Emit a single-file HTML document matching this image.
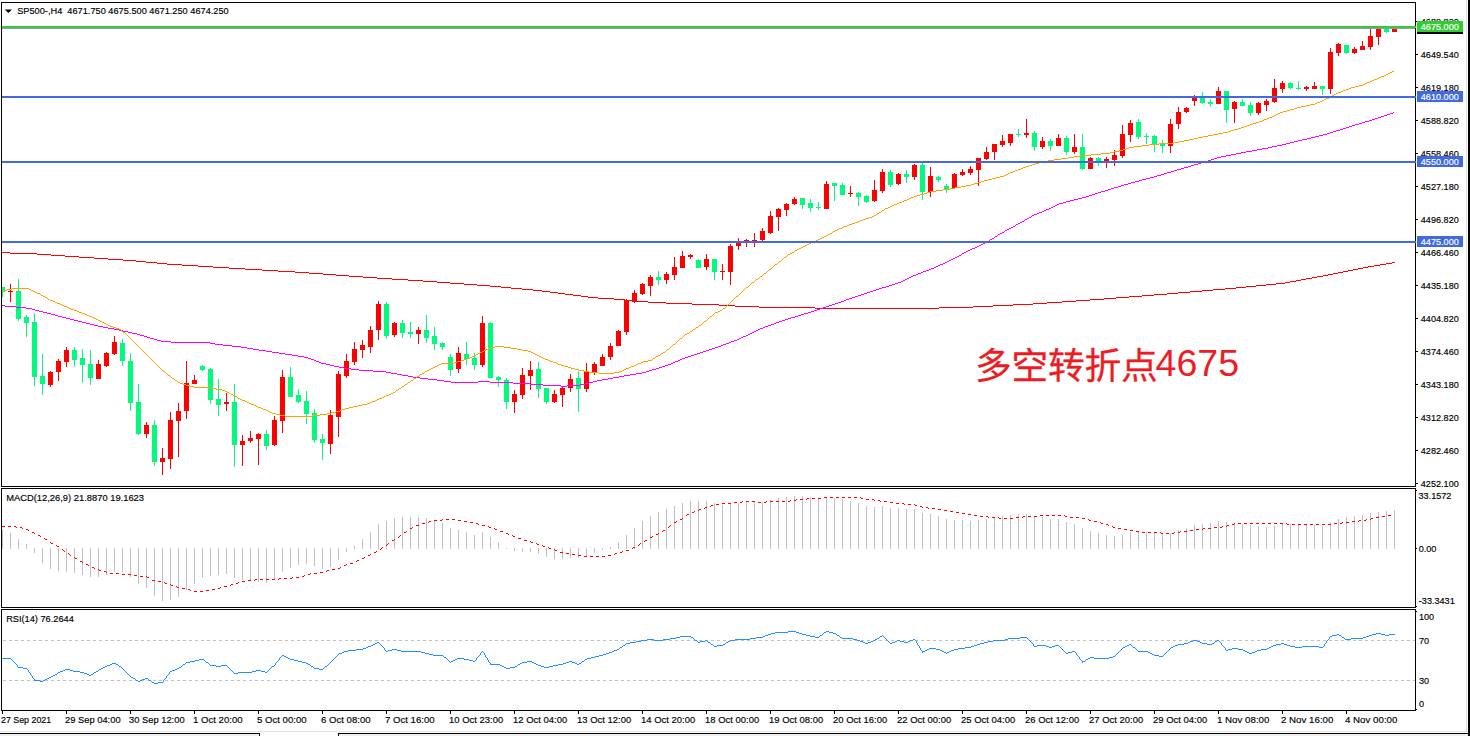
<!DOCTYPE html>
<html><head><meta charset="utf-8"><title>SP500-,H4</title>
<style>html,body{margin:0;padding:0;background:#fff;overflow:hidden}body{width:1470px;height:736px;font-family:"Liberation Sans",sans-serif}svg text{font-family:"Liberation Sans",sans-serif}</style>
</head><body>
<svg width="1470" height="736" viewBox="0 0 1470 736" style="display:block">
<rect width="1470" height="736" fill="#fff"/>
<rect x="0" y="731" width="1467" height="1" fill="#e2e2e2"/>
<rect x="0" y="734" width="260" height="2" fill="#f0f0f0"/>
<rect x="338" y="734" width="1130" height="2" fill="#f0f0f0"/>
<rect x="0" y="733" width="260" height="1" fill="#000"/>
<rect x="338" y="733" width="1130" height="1" fill="#000"/>
<rect x="259" y="733" width="1" height="3" fill="#000"/>
<rect x="338" y="733" width="1" height="3" fill="#000"/>
<rect x="1466" y="0" width="1" height="731" fill="#dcdcdc"/>
<rect x="1468" y="0" width="2" height="736" fill="#000"/>
<defs><clipPath id="cm"><rect x="2" y="3" width="1414" height="483"/></clipPath><clipPath id="c2"><rect x="2" y="489" width="1413" height="118"/></clipPath><clipPath id="c3"><rect x="2" y="610" width="1413" height="100"/></clipPath></defs>
<g clip-path="url(#cm)" shape-rendering="crispEdges">
<rect x="2" y="287.0" width="1" height="10.0" fill="#00fc7c"/>
<rect x="0" y="287.0" width="5" height="4.5" fill="#00fc7c"/>
<rect x="10" y="284.2" width="1" height="17.6" fill="#ff0000"/>
<rect x="8" y="290.9" width="5" height="1.0" fill="#ff0000"/>
<rect x="18" y="279.0" width="1" height="42.0" fill="#00fc7c"/>
<rect x="16" y="290.9" width="5" height="28.1" fill="#00fc7c"/>
<rect x="26" y="314.9" width="1" height="22.1" fill="#00fc7c"/>
<rect x="24" y="317.0" width="5" height="5.7" fill="#00fc7c"/>
<rect x="34" y="313.3" width="1" height="72.6" fill="#00fc7c"/>
<rect x="32" y="321.9" width="5" height="55.1" fill="#00fc7c"/>
<rect x="42" y="354.0" width="1" height="40.8" fill="#00fc7c"/>
<rect x="40" y="376.0" width="5" height="7.6" fill="#00fc7c"/>
<rect x="50" y="370.9" width="1" height="15.9" fill="#ff0000"/>
<rect x="48" y="372.0" width="5" height="12.6" fill="#ff0000"/>
<rect x="58" y="359.0" width="1" height="21.8" fill="#ff0000"/>
<rect x="56" y="361.0" width="5" height="10.5" fill="#ff0000"/>
<rect x="66" y="347.0" width="1" height="19.8" fill="#ff0000"/>
<rect x="64" y="350.0" width="5" height="11.7" fill="#ff0000"/>
<rect x="74" y="347.0" width="1" height="19.8" fill="#00fc7c"/>
<rect x="72" y="350.0" width="5" height="9.8" fill="#00fc7c"/>
<rect x="82" y="349.2" width="1" height="33.7" fill="#00fc7c"/>
<rect x="80" y="358.2" width="5" height="6.5" fill="#00fc7c"/>
<rect x="90" y="350.0" width="1" height="34.8" fill="#00fc7c"/>
<rect x="88" y="363.9" width="5" height="13.9" fill="#00fc7c"/>
<rect x="98" y="360.0" width="1" height="18.6" fill="#ff0000"/>
<rect x="96" y="364.2" width="5" height="14.4" fill="#ff0000"/>
<rect x="106" y="352.0" width="1" height="14.8" fill="#ff0000"/>
<rect x="104" y="353.3" width="5" height="12.5" fill="#ff0000"/>
<rect x="114" y="336.0" width="1" height="19.0" fill="#ff0000"/>
<rect x="112" y="342.2" width="5" height="11.6" fill="#ff0000"/>
<rect x="122" y="339.0" width="1" height="26.8" fill="#00fc7c"/>
<rect x="120" y="343.0" width="5" height="18.4" fill="#00fc7c"/>
<rect x="130" y="353.3" width="1" height="57.5" fill="#00fc7c"/>
<rect x="128" y="361.0" width="5" height="41.7" fill="#00fc7c"/>
<rect x="138" y="384.2" width="1" height="50.6" fill="#00fc7c"/>
<rect x="136" y="402.2" width="5" height="32.0" fill="#00fc7c"/>
<rect x="146" y="422.2" width="1" height="15.6" fill="#ff0000"/>
<rect x="144" y="425.0" width="5" height="8.7" fill="#ff0000"/>
<rect x="154" y="420.1" width="1" height="45.7" fill="#00fc7c"/>
<rect x="152" y="425.0" width="5" height="36.8" fill="#00fc7c"/>
<rect x="162" y="448.0" width="1" height="26.8" fill="#ff0000"/>
<rect x="160" y="458.2" width="5" height="3.6" fill="#ff0000"/>
<rect x="170" y="412.1" width="1" height="56.7" fill="#ff0000"/>
<rect x="168" y="420.1" width="5" height="38.6" fill="#ff0000"/>
<rect x="178" y="403.1" width="1" height="53.8" fill="#ff0000"/>
<rect x="176" y="411.1" width="5" height="9.5" fill="#ff0000"/>
<rect x="186" y="361.0" width="1" height="57.7" fill="#ff0000"/>
<rect x="184" y="383.0" width="5" height="27.5" fill="#ff0000"/>
<rect x="194" y="374.9" width="1" height="9.0" fill="#ff0000"/>
<rect x="192" y="380.1" width="5" height="3.8" fill="#ff0000"/>
<rect x="202" y="365.0" width="1" height="6.0" fill="#00fc7c"/>
<rect x="200" y="366.3" width="5" height="3.7" fill="#00fc7c"/>
<rect x="210" y="368.0" width="1" height="35.8" fill="#00fc7c"/>
<rect x="208" y="369.0" width="5" height="30.9" fill="#00fc7c"/>
<rect x="218" y="379.0" width="1" height="37.0" fill="#00fc7c"/>
<rect x="216" y="399.0" width="5" height="5.8" fill="#00fc7c"/>
<rect x="226" y="393.2" width="1" height="17.6" fill="#ff0000"/>
<rect x="224" y="402.2" width="5" height="1.6" fill="#ff0000"/>
<rect x="234" y="384.2" width="1" height="82.6" fill="#00fc7c"/>
<rect x="232" y="402.2" width="5" height="42.6" fill="#00fc7c"/>
<rect x="242" y="435.0" width="1" height="30.8" fill="#ff0000"/>
<rect x="240" y="441.0" width="5" height="3.8" fill="#ff0000"/>
<rect x="250" y="430.9" width="1" height="12.1" fill="#ff0000"/>
<rect x="248" y="438.1" width="5" height="2.9" fill="#ff0000"/>
<rect x="258" y="433.0" width="1" height="31.7" fill="#ff0000"/>
<rect x="256" y="434.2" width="5" height="4.4" fill="#ff0000"/>
<rect x="266" y="430.1" width="1" height="19.9" fill="#00fc7c"/>
<rect x="264" y="434.0" width="5" height="11.9" fill="#00fc7c"/>
<rect x="274" y="416.0" width="1" height="29.9" fill="#ff0000"/>
<rect x="272" y="420.1" width="5" height="25.0" fill="#ff0000"/>
<rect x="282" y="370.0" width="1" height="62.9" fill="#ff0000"/>
<rect x="280" y="377.0" width="5" height="43.6" fill="#ff0000"/>
<rect x="290" y="367.0" width="1" height="29.8" fill="#00fc7c"/>
<rect x="288" y="377.0" width="5" height="19.8" fill="#00fc7c"/>
<rect x="298" y="389.0" width="1" height="13.7" fill="#00fc7c"/>
<rect x="296" y="395.0" width="5" height="6.8" fill="#00fc7c"/>
<rect x="306" y="391.0" width="1" height="32.9" fill="#00fc7c"/>
<rect x="304" y="401.0" width="5" height="13.1" fill="#00fc7c"/>
<rect x="314" y="409.2" width="1" height="33.8" fill="#00fc7c"/>
<rect x="312" y="412.9" width="5" height="27.0" fill="#00fc7c"/>
<rect x="322" y="434.2" width="1" height="25.6" fill="#00fc7c"/>
<rect x="320" y="439.1" width="5" height="3.9" fill="#00fc7c"/>
<rect x="330" y="410.0" width="1" height="43.8" fill="#ff0000"/>
<rect x="328" y="414.9" width="5" height="29.1" fill="#ff0000"/>
<rect x="338" y="371.1" width="1" height="65.8" fill="#ff0000"/>
<rect x="336" y="374.1" width="5" height="42.8" fill="#ff0000"/>
<rect x="346" y="354.2" width="1" height="23.6" fill="#ff0000"/>
<rect x="344" y="361.0" width="5" height="14.7" fill="#ff0000"/>
<rect x="354" y="341.9" width="1" height="22.9" fill="#ff0000"/>
<rect x="352" y="349.1" width="5" height="12.7" fill="#ff0000"/>
<rect x="362" y="340.1" width="1" height="17.7" fill="#ff0000"/>
<rect x="360" y="345.0" width="5" height="4.9" fill="#ff0000"/>
<rect x="370" y="325.9" width="1" height="27.0" fill="#ff0000"/>
<rect x="368" y="330.0" width="5" height="16.8" fill="#ff0000"/>
<rect x="378" y="301.1" width="1" height="38.7" fill="#ff0000"/>
<rect x="376" y="304.0" width="5" height="25.7" fill="#ff0000"/>
<rect x="386" y="301.9" width="1" height="36.8" fill="#00fc7c"/>
<rect x="384" y="304.0" width="5" height="31.7" fill="#00fc7c"/>
<rect x="394" y="322.2" width="1" height="14.7" fill="#ff0000"/>
<rect x="392" y="323.1" width="5" height="11.5" fill="#ff0000"/>
<rect x="402" y="320.0" width="1" height="17.8" fill="#00fc7c"/>
<rect x="400" y="323.1" width="5" height="9.7" fill="#00fc7c"/>
<rect x="410" y="322.0" width="1" height="15.8" fill="#00fc7c"/>
<rect x="408" y="332.1" width="5" height="1.7" fill="#00fc7c"/>
<rect x="418" y="327.1" width="1" height="16.8" fill="#ff0000"/>
<rect x="416" y="330.0" width="5" height="3.8" fill="#ff0000"/>
<rect x="426" y="315.0" width="1" height="27.7" fill="#00fc7c"/>
<rect x="424" y="330.0" width="5" height="7.7" fill="#00fc7c"/>
<rect x="434" y="327.1" width="1" height="22.8" fill="#00fc7c"/>
<rect x="432" y="336.0" width="5" height="7.9" fill="#00fc7c"/>
<rect x="442" y="341.9" width="1" height="8.0" fill="#00fc7c"/>
<rect x="440" y="343.1" width="5" height="3.7" fill="#00fc7c"/>
<rect x="450" y="354.2" width="1" height="21.5" fill="#00fc7c"/>
<rect x="448" y="356.9" width="5" height="12.8" fill="#00fc7c"/>
<rect x="458" y="347.1" width="1" height="25.7" fill="#ff0000"/>
<rect x="456" y="353.0" width="5" height="15.9" fill="#ff0000"/>
<rect x="466" y="341.9" width="1" height="22.9" fill="#00fc7c"/>
<rect x="464" y="354.0" width="5" height="5.1" fill="#00fc7c"/>
<rect x="474" y="352.9" width="1" height="17.1" fill="#00fc7c"/>
<rect x="472" y="358.1" width="5" height="6.7" fill="#00fc7c"/>
<rect x="482" y="316.0" width="1" height="50.9" fill="#ff0000"/>
<rect x="480" y="322.9" width="5" height="42.1" fill="#ff0000"/>
<rect x="490" y="322.0" width="1" height="56.0" fill="#00fc7c"/>
<rect x="488" y="322.9" width="5" height="55.1" fill="#00fc7c"/>
<rect x="498" y="375.9" width="1" height="11.0" fill="#00fc7c"/>
<rect x="496" y="377.0" width="5" height="3.0" fill="#00fc7c"/>
<rect x="506" y="378.0" width="1" height="30.9" fill="#00fc7c"/>
<rect x="504" y="380.0" width="5" height="22.0" fill="#00fc7c"/>
<rect x="514" y="389.8" width="1" height="23.2" fill="#ff0000"/>
<rect x="512" y="394.2" width="5" height="7.8" fill="#ff0000"/>
<rect x="522" y="368.1" width="1" height="30.7" fill="#ff0000"/>
<rect x="520" y="375.1" width="5" height="19.6" fill="#ff0000"/>
<rect x="530" y="360.9" width="1" height="28.9" fill="#ff0000"/>
<rect x="528" y="370.2" width="5" height="5.7" fill="#ff0000"/>
<rect x="538" y="362.0" width="1" height="36.0" fill="#00fc7c"/>
<rect x="536" y="369.1" width="5" height="19.9" fill="#00fc7c"/>
<rect x="546" y="388.2" width="1" height="15.8" fill="#00fc7c"/>
<rect x="544" y="388.2" width="5" height="13.8" fill="#00fc7c"/>
<rect x="554" y="389.8" width="1" height="13.1" fill="#ff0000"/>
<rect x="552" y="394.2" width="5" height="7.8" fill="#ff0000"/>
<rect x="562" y="387.0" width="1" height="19.9" fill="#ff0000"/>
<rect x="560" y="388.2" width="5" height="6.5" fill="#ff0000"/>
<rect x="570" y="374.0" width="1" height="17.8" fill="#ff0000"/>
<rect x="568" y="379.2" width="5" height="8.6" fill="#ff0000"/>
<rect x="578" y="371.0" width="1" height="40.8" fill="#00fc7c"/>
<rect x="576" y="378.0" width="5" height="11.0" fill="#00fc7c"/>
<rect x="586" y="362.9" width="1" height="29.0" fill="#ff0000"/>
<rect x="584" y="371.8" width="5" height="17.2" fill="#ff0000"/>
<rect x="594" y="362.0" width="1" height="13.1" fill="#ff0000"/>
<rect x="592" y="364.2" width="5" height="8.9" fill="#ff0000"/>
<rect x="602" y="353.9" width="1" height="11.9" fill="#ff0000"/>
<rect x="600" y="357.1" width="5" height="8.7" fill="#ff0000"/>
<rect x="610" y="342.9" width="1" height="17.0" fill="#ff0000"/>
<rect x="608" y="346.0" width="5" height="10.8" fill="#ff0000"/>
<rect x="618" y="329.9" width="1" height="15.8" fill="#ff0000"/>
<rect x="616" y="331.0" width="5" height="14.7" fill="#ff0000"/>
<rect x="626" y="299.4" width="1" height="35.4" fill="#ff0000"/>
<rect x="624" y="300.2" width="5" height="31.6" fill="#ff0000"/>
<rect x="634" y="289.9" width="1" height="12.8" fill="#ff0000"/>
<rect x="632" y="292.9" width="5" height="8.9" fill="#ff0000"/>
<rect x="642" y="283.1" width="1" height="11.7" fill="#ff0000"/>
<rect x="640" y="283.9" width="5" height="10.1" fill="#ff0000"/>
<rect x="650" y="274.9" width="1" height="20.9" fill="#ff0000"/>
<rect x="648" y="277.0" width="5" height="8.8" fill="#ff0000"/>
<rect x="658" y="271.1" width="1" height="13.6" fill="#00fc7c"/>
<rect x="656" y="277.3" width="5" height="2.5" fill="#00fc7c"/>
<rect x="666" y="272.1" width="1" height="11.8" fill="#ff0000"/>
<rect x="664" y="274.1" width="5" height="5.7" fill="#ff0000"/>
<rect x="674" y="256.9" width="1" height="22.9" fill="#ff0000"/>
<rect x="672" y="267.1" width="5" height="7.8" fill="#ff0000"/>
<rect x="682" y="251.1" width="1" height="16.8" fill="#ff0000"/>
<rect x="680" y="256.1" width="5" height="11.8" fill="#ff0000"/>
<rect x="690" y="254.2" width="1" height="4.7" fill="#ff0000"/>
<rect x="688" y="255.0" width="5" height="1.9" fill="#ff0000"/>
<rect x="698" y="259.1" width="1" height="8.8" fill="#00fc7c"/>
<rect x="696" y="260.2" width="5" height="7.7" fill="#00fc7c"/>
<rect x="706" y="254.2" width="1" height="15.8" fill="#ff0000"/>
<rect x="704" y="259.1" width="5" height="7.6" fill="#ff0000"/>
<rect x="714" y="259.1" width="1" height="20.7" fill="#00fc7c"/>
<rect x="712" y="259.1" width="5" height="12.5" fill="#00fc7c"/>
<rect x="722" y="264.0" width="1" height="15.8" fill="#ff0000"/>
<rect x="720" y="270.8" width="5" height="1.2" fill="#ff0000"/>
<rect x="730" y="243.9" width="1" height="40.8" fill="#ff0000"/>
<rect x="728" y="246.0" width="5" height="25.6" fill="#ff0000"/>
<rect x="738" y="237.8" width="1" height="12.1" fill="#ff0000"/>
<rect x="736" y="240.6" width="5" height="5.4" fill="#ff0000"/>
<rect x="746" y="239.0" width="1" height="7.8" fill="#ff0000"/>
<rect x="744" y="240.1" width="5" height="1.8" fill="#ff0000"/>
<rect x="754" y="232.9" width="1" height="13.9" fill="#ff0000"/>
<rect x="752" y="240.1" width="5" height="1.3" fill="#ff0000"/>
<rect x="762" y="228.0" width="1" height="12.9" fill="#ff0000"/>
<rect x="760" y="230.8" width="5" height="9.0" fill="#ff0000"/>
<rect x="770" y="210.9" width="1" height="22.9" fill="#ff0000"/>
<rect x="768" y="216.1" width="5" height="16.8" fill="#ff0000"/>
<rect x="778" y="208.0" width="1" height="22.8" fill="#ff0000"/>
<rect x="776" y="209.1" width="5" height="7.5" fill="#ff0000"/>
<rect x="786" y="203.1" width="1" height="12.7" fill="#ff0000"/>
<rect x="784" y="204.0" width="5" height="5.6" fill="#ff0000"/>
<rect x="794" y="197.0" width="1" height="8.0" fill="#ff0000"/>
<rect x="792" y="199.0" width="5" height="5.0" fill="#ff0000"/>
<rect x="802" y="197.8" width="1" height="11.0" fill="#00fc7c"/>
<rect x="800" y="198.2" width="5" height="6.5" fill="#00fc7c"/>
<rect x="810" y="199.0" width="1" height="12.7" fill="#00fc7c"/>
<rect x="808" y="203.1" width="5" height="4.5" fill="#00fc7c"/>
<rect x="818" y="201.9" width="1" height="8.0" fill="#00fc7c"/>
<rect x="816" y="207.0" width="5" height="1.3" fill="#00fc7c"/>
<rect x="826" y="180.9" width="1" height="28.1" fill="#ff0000"/>
<rect x="824" y="184.0" width="5" height="25.0" fill="#ff0000"/>
<rect x="834" y="182.9" width="1" height="17.9" fill="#00fc7c"/>
<rect x="832" y="183.2" width="5" height="2.6" fill="#00fc7c"/>
<rect x="842" y="182.9" width="1" height="11.9" fill="#00fc7c"/>
<rect x="840" y="185.0" width="5" height="9.8" fill="#00fc7c"/>
<rect x="850" y="186.1" width="1" height="10.6" fill="#ff0000"/>
<rect x="848" y="193.0" width="5" height="1.0" fill="#ff0000"/>
<rect x="858" y="191.8" width="1" height="13.9" fill="#00fc7c"/>
<rect x="856" y="193.0" width="5" height="3.7" fill="#00fc7c"/>
<rect x="866" y="195.1" width="1" height="7.7" fill="#00fc7c"/>
<rect x="864" y="195.9" width="5" height="5.7" fill="#00fc7c"/>
<rect x="874" y="180.1" width="1" height="21.5" fill="#ff0000"/>
<rect x="872" y="190.2" width="5" height="10.6" fill="#ff0000"/>
<rect x="882" y="169.0" width="1" height="24.0" fill="#ff0000"/>
<rect x="880" y="171.9" width="5" height="19.1" fill="#ff0000"/>
<rect x="890" y="170.1" width="1" height="16.8" fill="#00fc7c"/>
<rect x="888" y="171.9" width="5" height="13.1" fill="#00fc7c"/>
<rect x="898" y="173.1" width="1" height="11.9" fill="#ff0000"/>
<rect x="896" y="173.9" width="5" height="10.1" fill="#ff0000"/>
<rect x="906" y="170.1" width="1" height="12.8" fill="#00fc7c"/>
<rect x="904" y="174.4" width="5" height="2.3" fill="#00fc7c"/>
<rect x="914" y="163.8" width="1" height="16.1" fill="#ff0000"/>
<rect x="912" y="164.9" width="5" height="11.9" fill="#ff0000"/>
<rect x="922" y="162.9" width="1" height="37.1" fill="#00fc7c"/>
<rect x="920" y="164.9" width="5" height="26.9" fill="#00fc7c"/>
<rect x="930" y="167.0" width="1" height="29.7" fill="#ff0000"/>
<rect x="928" y="176.0" width="5" height="15.8" fill="#ff0000"/>
<rect x="938" y="176.0" width="1" height="5.7" fill="#00fc7c"/>
<rect x="936" y="176.8" width="5" height="3.1" fill="#00fc7c"/>
<rect x="946" y="184.2" width="1" height="8.8" fill="#00fc7c"/>
<rect x="944" y="185.8" width="5" height="3.3" fill="#00fc7c"/>
<rect x="954" y="173.1" width="1" height="16.0" fill="#ff0000"/>
<rect x="952" y="173.9" width="5" height="14.2" fill="#ff0000"/>
<rect x="962" y="169.0" width="1" height="7.0" fill="#ff0000"/>
<rect x="960" y="171.9" width="5" height="3.1" fill="#ff0000"/>
<rect x="970" y="166.0" width="1" height="9.0" fill="#ff0000"/>
<rect x="968" y="169.0" width="5" height="4.1" fill="#ff0000"/>
<rect x="978" y="158.0" width="1" height="28.1" fill="#ff0000"/>
<rect x="976" y="158.0" width="5" height="11.8" fill="#ff0000"/>
<rect x="986" y="146.9" width="1" height="13.1" fill="#ff0000"/>
<rect x="984" y="152.2" width="5" height="6.7" fill="#ff0000"/>
<rect x="994" y="144.0" width="1" height="16.0" fill="#ff0000"/>
<rect x="992" y="144.0" width="5" height="7.8" fill="#ff0000"/>
<rect x="1002" y="135.0" width="1" height="11.9" fill="#ff0000"/>
<rect x="1000" y="140.9" width="5" height="4.1" fill="#ff0000"/>
<rect x="1010" y="134.0" width="1" height="11.8" fill="#ff0000"/>
<rect x="1008" y="134.0" width="5" height="8.9" fill="#ff0000"/>
<rect x="1018" y="129.0" width="1" height="8.0" fill="#00fc7c"/>
<rect x="1016" y="134.0" width="5" height="1.0" fill="#00fc7c"/>
<rect x="1026" y="119.3" width="1" height="18.7" fill="#ff0000"/>
<rect x="1024" y="133.1" width="5" height="1.9" fill="#ff0000"/>
<rect x="1034" y="131.1" width="1" height="19.9" fill="#00fc7c"/>
<rect x="1032" y="133.1" width="5" height="13.8" fill="#00fc7c"/>
<rect x="1042" y="137.0" width="1" height="12.0" fill="#ff0000"/>
<rect x="1040" y="141.0" width="5" height="5.8" fill="#ff0000"/>
<rect x="1050" y="139.0" width="1" height="11.9" fill="#00fc7c"/>
<rect x="1048" y="141.0" width="5" height="4.9" fill="#00fc7c"/>
<rect x="1058" y="134.0" width="1" height="11.9" fill="#ff0000"/>
<rect x="1056" y="138.1" width="5" height="7.8" fill="#ff0000"/>
<rect x="1066" y="136.1" width="1" height="18.8" fill="#00fc7c"/>
<rect x="1064" y="138.1" width="5" height="13.9" fill="#00fc7c"/>
<rect x="1074" y="134.0" width="1" height="19.8" fill="#ff0000"/>
<rect x="1072" y="147.1" width="5" height="4.9" fill="#ff0000"/>
<rect x="1082" y="134.0" width="1" height="35.6" fill="#00fc7c"/>
<rect x="1080" y="147.1" width="5" height="21.7" fill="#00fc7c"/>
<rect x="1090" y="157.3" width="1" height="11.5" fill="#ff0000"/>
<rect x="1088" y="158.2" width="5" height="10.6" fill="#ff0000"/>
<rect x="1098" y="157.3" width="1" height="8.5" fill="#00fc7c"/>
<rect x="1096" y="158.2" width="5" height="2.9" fill="#00fc7c"/>
<rect x="1106" y="157.0" width="1" height="11.0" fill="#ff0000"/>
<rect x="1104" y="159.0" width="5" height="2.1" fill="#ff0000"/>
<rect x="1114" y="150.0" width="1" height="15.8" fill="#ff0000"/>
<rect x="1112" y="154.9" width="5" height="5.4" fill="#ff0000"/>
<rect x="1122" y="125.0" width="1" height="32.8" fill="#ff0000"/>
<rect x="1120" y="134.0" width="5" height="21.7" fill="#ff0000"/>
<rect x="1130" y="120.1" width="1" height="21.7" fill="#ff0000"/>
<rect x="1128" y="123.1" width="5" height="11.9" fill="#ff0000"/>
<rect x="1138" y="119.0" width="1" height="19.9" fill="#00fc7c"/>
<rect x="1136" y="121.9" width="5" height="15.0" fill="#00fc7c"/>
<rect x="1146" y="132.9" width="1" height="11.1" fill="#00fc7c"/>
<rect x="1144" y="135.8" width="5" height="1.1" fill="#00fc7c"/>
<rect x="1154" y="135.0" width="1" height="17.0" fill="#00fc7c"/>
<rect x="1152" y="135.8" width="5" height="9.0" fill="#00fc7c"/>
<rect x="1162" y="139.9" width="1" height="13.0" fill="#00fc7c"/>
<rect x="1160" y="143.0" width="5" height="2.9" fill="#00fc7c"/>
<rect x="1170" y="119.0" width="1" height="33.9" fill="#ff0000"/>
<rect x="1168" y="123.9" width="5" height="22.0" fill="#ff0000"/>
<rect x="1178" y="107.1" width="1" height="21.7" fill="#ff0000"/>
<rect x="1176" y="112.1" width="5" height="11.8" fill="#ff0000"/>
<rect x="1186" y="107.1" width="1" height="5.8" fill="#ff0000"/>
<rect x="1184" y="108.0" width="5" height="4.1" fill="#ff0000"/>
<rect x="1194" y="95.0" width="1" height="10.9" fill="#ff0000"/>
<rect x="1192" y="98.1" width="5" height="2.6" fill="#ff0000"/>
<rect x="1202" y="92.0" width="1" height="12.0" fill="#00fc7c"/>
<rect x="1200" y="98.1" width="5" height="4.9" fill="#00fc7c"/>
<rect x="1210" y="99.1" width="1" height="8.0" fill="#00fc7c"/>
<rect x="1208" y="102.2" width="5" height="1.8" fill="#00fc7c"/>
<rect x="1218" y="87.0" width="1" height="17.0" fill="#ff0000"/>
<rect x="1216" y="90.9" width="5" height="13.1" fill="#ff0000"/>
<rect x="1226" y="90.9" width="1" height="32.2" fill="#00fc7c"/>
<rect x="1224" y="90.9" width="5" height="19.1" fill="#00fc7c"/>
<rect x="1234" y="101.0" width="1" height="22.1" fill="#ff0000"/>
<rect x="1232" y="102.2" width="5" height="6.7" fill="#ff0000"/>
<rect x="1242" y="99.1" width="1" height="6.8" fill="#00fc7c"/>
<rect x="1240" y="102.2" width="5" height="3.7" fill="#00fc7c"/>
<rect x="1250" y="102.2" width="1" height="13.8" fill="#00fc7c"/>
<rect x="1248" y="105.1" width="5" height="7.8" fill="#00fc7c"/>
<rect x="1258" y="102.2" width="1" height="12.7" fill="#ff0000"/>
<rect x="1256" y="103.1" width="5" height="9.8" fill="#ff0000"/>
<rect x="1266" y="99.0" width="1" height="11.8" fill="#ff0000"/>
<rect x="1264" y="101.2" width="5" height="3.8" fill="#ff0000"/>
<rect x="1274" y="79.0" width="1" height="24.0" fill="#ff0000"/>
<rect x="1272" y="88.0" width="5" height="14.0" fill="#ff0000"/>
<rect x="1282" y="81.0" width="1" height="11.9" fill="#ff0000"/>
<rect x="1280" y="82.9" width="5" height="5.9" fill="#ff0000"/>
<rect x="1290" y="81.8" width="1" height="7.3" fill="#00fc7c"/>
<rect x="1288" y="82.9" width="5" height="5.1" fill="#00fc7c"/>
<rect x="1298" y="81.0" width="1" height="8.9" fill="#00fc7c"/>
<rect x="1296" y="88.0" width="5" height="1.1" fill="#00fc7c"/>
<rect x="1306" y="85.8" width="1" height="5.3" fill="#ff0000"/>
<rect x="1304" y="87.0" width="5" height="2.1" fill="#ff0000"/>
<rect x="1314" y="81.8" width="1" height="7.3" fill="#ff0000"/>
<rect x="1312" y="85.8" width="5" height="3.3" fill="#ff0000"/>
<rect x="1322" y="85.8" width="1" height="9.0" fill="#00fc7c"/>
<rect x="1320" y="85.8" width="5" height="3.3" fill="#00fc7c"/>
<rect x="1330" y="48.0" width="1" height="46.0" fill="#ff0000"/>
<rect x="1328" y="52.1" width="5" height="37.0" fill="#ff0000"/>
<rect x="1338" y="42.9" width="1" height="13.1" fill="#ff0000"/>
<rect x="1336" y="43.9" width="5" height="9.0" fill="#ff0000"/>
<rect x="1346" y="45.1" width="1" height="8.9" fill="#00fc7c"/>
<rect x="1344" y="45.1" width="5" height="7.8" fill="#00fc7c"/>
<rect x="1354" y="47.0" width="1" height="7.0" fill="#ff0000"/>
<rect x="1352" y="48.8" width="5" height="4.1" fill="#ff0000"/>
<rect x="1362" y="41.0" width="1" height="9.0" fill="#ff0000"/>
<rect x="1360" y="45.9" width="5" height="4.1" fill="#ff0000"/>
<rect x="1370" y="27.9" width="1" height="22.1" fill="#ff0000"/>
<rect x="1368" y="36.1" width="5" height="10.9" fill="#ff0000"/>
<rect x="1378" y="27.9" width="1" height="17.2" fill="#ff0000"/>
<rect x="1376" y="28.8" width="5" height="8.1" fill="#ff0000"/>
<rect x="1386" y="27.9" width="1" height="4.9" fill="#00fc7c"/>
<rect x="1384" y="28.4" width="5" height="3.6" fill="#00fc7c"/>
<rect x="1394" y="28.4" width="1" height="3.6" fill="#ff0000"/>
<rect x="1392" y="28.4" width="5" height="3.6" fill="#ff0000"/>
<path d="M2 252h8v1h-8zM10 253h27v1h-27zM37 254h14v1h-14zM51 255h14v1h-14zM65 256h14v1h-14zM79 257h15v1h-15zM94 258h14v1h-14zM108 259h15v1h-15zM123 260h13v1h-13zM136 261h10v1h-10zM146 262h11v1h-11zM157 263h10v1h-10zM167 264h15v1h-15zM182 265h16v1h-16zM198 266h15v1h-15zM213 267h16v1h-16zM229 268h16v1h-16zM245 269h17v1h-17zM262 270h16v1h-16zM278 271h17v1h-17zM295 272h14v1h-14zM309 273h14v1h-14zM323 274h13v1h-13zM336 275h13v1h-13zM349 276h14v1h-14zM363 277h14v1h-14zM377 278h15v1h-15zM392 279h16v1h-16zM408 280h15v1h-15zM423 281h14v1h-14zM437 282h13v1h-13zM450 283h14v1h-14zM464 284h13v1h-13zM477 285h13v1h-13zM490 286h11v1h-11zM501 287h10v1h-10zM511 288h11v1h-11zM522 289h11v1h-11zM533 290h9v1h-9zM542 291h8v1h-8zM550 292h8v1h-8zM558 293h7v1h-7zM565 294h8v1h-8zM573 295h8v1h-8zM581 296h7v1h-7zM588 297h10v1h-10zM598 298h16v1h-16zM614 299h11v1h-11zM625 300h9v1h-9zM634 301h14v1h-14zM648 302h18v1h-18zM666 303h26v1h-26zM692 304h27v1h-27zM719 305h16v1h-16zM735 306h24v1h-24zM759 307h56v1h-56zM815 308h124v1h-124zM939 307h34v1h-34zM973 306h20v1h-20zM993 305h20v1h-20zM1013 304h20v1h-20zM1033 303h14v1h-14zM1047 302h15v1h-15zM1062 301h14v1h-14zM1076 300h14v1h-14zM1090 299h14v1h-14zM1104 298h12v1h-12zM1116 297h13v1h-13zM1129 296h13v1h-13zM1142 295h12v1h-12zM1154 294h13v1h-13zM1167 293h11v1h-11zM1178 292h12v1h-12zM1190 291h12v1h-12zM1202 290h11v1h-11zM1213 289h12v1h-12zM1225 288h11v1h-11zM1236 287h10v1h-10zM1246 286h10v1h-10zM1256 285h10v1h-10zM1266 284h10v1h-10zM1276 283h9v1h-9zM1285 282h5v1h-5zM1290 281h6v1h-6zM1296 280h5v1h-5zM1301 279h5v1h-5zM1306 278h6v1h-6zM1312 277h5v1h-5zM1317 276h6v1h-6zM1323 275h5v1h-5zM1328 274h5v1h-5zM1333 273h5v1h-5zM1338 272h5v1h-5zM1343 271h5v1h-5zM1348 270h5v1h-5zM1353 269h5v1h-5zM1358 268h5v1h-5zM1363 267h5v1h-5zM1368 266h6v1h-6zM1374 265h6v1h-6zM1380 264h6v1h-6zM1386 263h6v1h-6zM1392 262h3v1h-3z" fill="#ff0000" shape-rendering="crispEdges"/>
<path d="M2 305h3v1h-3zM5 306h11v1h-11zM16 307h10v1h-10zM26 308h6v1h-6zM32 309h3v1h-3zM35 310h4v1h-4zM39 311h4v1h-4zM43 312h4v1h-4zM47 313h4v1h-4zM51 314h4v1h-4zM55 315h3v1h-3zM58 316h4v1h-4zM62 317h4v1h-4zM66 318h4v1h-4zM70 319h4v1h-4zM74 320h4v1h-4zM78 321h4v1h-4zM82 322h4v1h-4zM86 323h4v1h-4zM90 324h4v1h-4zM94 325h4v1h-4zM98 326h5v1h-5zM103 327h5v1h-5zM108 328h6v1h-6zM114 329h5v1h-5zM119 330h4v1h-4zM123 331h5v1h-5zM128 332h4v1h-4zM132 333h5v1h-5zM137 334h3v1h-3zM140 335h4v1h-4zM144 336h3v1h-3zM147 337h3v1h-3zM150 338h4v1h-4zM154 339h3v1h-3zM157 340h4v1h-4zM161 341h10v1h-10zM171 342h39v1h-39zM210 343h5v1h-5zM215 344h8v1h-8zM223 345h9v1h-9zM232 346h9v1h-9zM241 347h6v1h-6zM247 348h6v1h-6zM253 349h6v1h-6zM259 350h7v1h-7zM266 351h6v1h-6zM272 352h7v1h-7zM279 353h6v1h-6zM285 354h7v1h-7zM292 355h6v1h-6zM298 356h6v1h-6zM304 357h4v1h-4zM308 358h3v1h-3zM311 359h3v1h-3zM314 360h2v1h-2zM316 361h3v1h-3zM319 362h2v1h-2zM321 363h5v1h-5zM326 364h4v1h-4zM330 365h4v1h-4zM334 366h5v1h-5zM339 367h5v1h-5zM344 368h7v1h-7zM351 369h8v1h-8zM359 370h14v1h-14zM373 371h13v1h-13zM386 372h5v1h-5zM391 373h6v1h-6zM397 374h5v1h-5zM402 375h6v1h-6zM408 376h5v1h-5zM413 377h7v1h-7zM420 378h8v1h-8zM428 379h9v1h-9zM437 380h7v1h-7zM444 381h7v1h-7zM451 382h27v1h-27zM478 381h12v1h-12zM490 382h23v1h-23zM513 383h17v1h-17zM530 384h13v1h-13zM543 385h18v1h-18zM561 386h6v1h-6zM567 385h13v1h-13zM580 384h5v1h-5zM585 383h4v1h-4zM589 382h4v1h-4zM593 381h4v1h-4zM597 380h5v1h-5zM602 379h6v1h-6zM608 378h5v1h-5zM613 377h6v1h-6zM619 376h5v1h-5zM624 375h6v1h-6zM630 374h6v1h-6zM636 373h6v1h-6zM642 372h4v1h-4zM646 371h3v1h-3zM649 370h3v1h-3zM652 369h4v1h-4zM656 368h3v1h-3zM659 367h3v1h-3zM662 366h3v1h-3zM665 365h3v1h-3zM668 364h3v1h-3zM671 363h2v1h-2zM673 362h2v1h-2zM675 361h3v1h-3zM678 360h2v1h-2zM680 359h2v1h-2zM682 358h3v1h-3zM685 357h3v1h-3zM688 356h3v1h-3zM691 355h3v1h-3zM694 354h3v1h-3zM697 353h3v1h-3zM700 352h3v1h-3zM703 351h3v1h-3zM706 350h3v1h-3zM709 349h3v1h-3zM712 348h3v1h-3zM715 347h3v1h-3zM718 346h3v1h-3zM721 345h2v1h-2zM723 344h3v1h-3zM726 343h3v1h-3zM729 342h2v1h-2zM731 341h3v1h-3zM734 340h3v1h-3zM737 339h2v1h-2zM739 338h2v1h-2zM741 337h2v1h-2zM743 336h3v1h-3zM746 335h2v1h-2zM748 334h2v1h-2zM750 333h2v1h-2zM752 332h2v1h-2zM754 331h2v1h-2zM756 330h2v1h-2zM758 329h2v1h-2zM760 328h3v1h-3zM763 327h2v1h-2zM765 326h3v1h-3zM768 325h3v1h-3zM771 324h3v1h-3zM774 323h2v1h-2zM776 322h3v1h-3zM779 321h3v1h-3zM782 320h3v1h-3zM785 319h3v1h-3zM788 318h3v1h-3zM791 317h4v1h-4zM795 316h3v1h-3zM798 315h3v1h-3zM801 314h3v1h-3zM804 313h4v1h-4zM808 312h3v1h-3zM811 311h3v1h-3zM814 310h3v1h-3zM817 309h3v1h-3zM820 308h3v1h-3zM823 307h3v1h-3zM826 306h3v1h-3zM829 305h3v1h-3zM832 304h3v1h-3zM835 303h3v1h-3zM838 302h3v1h-3zM841 301h3v1h-3zM844 300h2v1h-2zM846 299h3v1h-3zM849 298h3v1h-3zM852 297h3v1h-3zM855 296h3v1h-3zM858 295h3v1h-3zM861 294h3v1h-3zM864 293h3v1h-3zM867 292h3v1h-3zM870 291h3v1h-3zM873 290h3v1h-3zM876 289h3v1h-3zM879 288h3v1h-3zM882 287h4v1h-4zM886 286h3v1h-3zM889 285h3v1h-3zM892 284h3v1h-3zM895 283h3v1h-3zM898 282h3v1h-3zM901 281h2v1h-2zM903 280h2v1h-2zM905 279h2v1h-2zM907 278h2v1h-2zM909 277h2v1h-2zM911 276h2v1h-2zM913 275h3v1h-3zM916 274h2v1h-2zM918 273h3v1h-3zM921 272h2v1h-2zM923 271h3v1h-3zM926 270h3v1h-3zM929 269h2v1h-2zM931 268h3v1h-3zM934 267h2v1h-2zM936 266h2v1h-2zM938 265h2v1h-2zM940 264h3v1h-3zM943 263h2v1h-2zM945 262h2v1h-2zM947 261h2v1h-2zM949 260h2v1h-2zM951 259h2v1h-2zM953 258h2v1h-2zM955 257h2v1h-2zM957 256h2v1h-2zM959 255h2v1h-2zM961 254h1v1h-1zM962 253h2v1h-2zM964 252h2v1h-2zM966 251h2v1h-2zM968 250h2v1h-2zM970 249h2v1h-2zM972 248h3v1h-3zM975 247h2v1h-2zM977 246h2v1h-2zM979 245h2v1h-2zM981 244h2v1h-2zM983 243h2v1h-2zM985 242h2v1h-2zM987 241h2v1h-2zM989 240h1v1h-1zM990 239h2v1h-2zM992 238h2v1h-2zM994 237h1v1h-1zM995 236h2v1h-2zM997 235h1v1h-1zM998 234h2v1h-2zM1000 233h2v1h-2zM1002 232h2v1h-2zM1004 231h1v1h-1zM1005 230h2v1h-2zM1007 229h2v1h-2zM1009 228h2v1h-2zM1011 227h2v1h-2zM1013 226h2v1h-2zM1015 225h1v1h-1zM1016 224h2v1h-2zM1018 223h2v1h-2zM1020 222h2v1h-2zM1022 221h2v1h-2zM1024 220h1v1h-1zM1025 219h2v1h-2zM1027 218h2v1h-2zM1029 217h2v1h-2zM1031 216h1v1h-1zM1032 215h2v1h-2zM1034 214h3v1h-3zM1037 213h2v1h-2zM1039 212h3v1h-3zM1042 211h2v1h-2zM1044 210h2v1h-2zM1046 209h3v1h-3zM1049 208h2v1h-2zM1051 207h2v1h-2zM1053 206h2v1h-2zM1055 205h2v1h-2zM1057 204h2v1h-2zM1059 203h4v1h-4zM1063 202h3v1h-3zM1066 201h4v1h-4zM1070 200h4v1h-4zM1074 199h4v1h-4zM1078 198h4v1h-4zM1082 197h4v1h-4zM1086 196h3v1h-3zM1089 195h3v1h-3zM1092 194h3v1h-3zM1095 193h3v1h-3zM1098 192h3v1h-3zM1101 191h4v1h-4zM1105 190h3v1h-3zM1108 189h3v1h-3zM1111 188h3v1h-3zM1114 187h4v1h-4zM1118 186h3v1h-3zM1121 185h3v1h-3zM1124 184h4v1h-4zM1128 183h3v1h-3zM1131 182h4v1h-4zM1135 181h4v1h-4zM1139 180h3v1h-3zM1142 179h4v1h-4zM1146 178h4v1h-4zM1150 177h4v1h-4zM1154 176h3v1h-3zM1157 175h4v1h-4zM1161 174h3v1h-3zM1164 173h3v1h-3zM1167 172h4v1h-4zM1171 171h3v1h-3zM1174 170h3v1h-3zM1177 169h4v1h-4zM1181 168h3v1h-3zM1184 167h4v1h-4zM1188 166h3v1h-3zM1191 165h3v1h-3zM1194 164h4v1h-4zM1198 163h3v1h-3zM1201 162h3v1h-3zM1204 161h4v1h-4zM1208 160h3v1h-3zM1211 159h3v1h-3zM1214 158h3v1h-3zM1217 157h4v1h-4zM1221 156h5v1h-5zM1226 155h5v1h-5zM1231 154h5v1h-5zM1236 153h5v1h-5zM1241 152h5v1h-5zM1246 151h6v1h-6zM1252 150h5v1h-5zM1257 149h5v1h-5zM1262 148h6v1h-6zM1268 147h4v1h-4zM1272 146h5v1h-5zM1277 145h5v1h-5zM1282 144h4v1h-4zM1286 143h4v1h-4zM1290 142h4v1h-4zM1294 141h4v1h-4zM1298 140h4v1h-4zM1302 139h5v1h-5zM1307 138h4v1h-4zM1311 137h4v1h-4zM1315 136h4v1h-4zM1319 135h4v1h-4zM1323 134h4v1h-4zM1327 133h3v1h-3zM1330 132h3v1h-3zM1333 131h3v1h-3zM1336 130h4v1h-4zM1340 129h3v1h-3zM1343 128h3v1h-3zM1346 127h3v1h-3zM1349 126h3v1h-3zM1352 125h3v1h-3zM1355 124h4v1h-4zM1359 123h3v1h-3zM1362 122h3v1h-3zM1365 121h4v1h-4zM1369 120h3v1h-3zM1372 119h3v1h-3zM1375 118h3v1h-3zM1378 117h3v1h-3zM1381 116h3v1h-3zM1384 115h3v1h-3zM1387 114h3v1h-3zM1390 113h3v1h-3zM1393 112h1v1h-1z" fill="#ff00ff" shape-rendering="crispEdges"/>
<path d="M2 291h1v1h-1zM3 290h4v1h-4zM7 289h5v1h-5zM12 288h17v1h-17zM29 289h2v1h-2zM31 290h2v1h-2zM33 291h2v1h-2zM35 292h2v1h-2zM37 293h3v1h-3zM40 294h1v1h-1zM41 295h2v1h-2zM43 296h2v1h-2zM45 297h2v1h-2zM47 298h1v1h-1zM48 299h2v1h-2zM50 300h3v1h-3zM53 301h2v1h-2zM55 302h2v1h-2zM57 303h3v1h-3zM60 304h2v1h-2zM62 305h2v1h-2zM64 306h3v1h-3zM67 307h2v1h-2zM69 308h2v1h-2zM71 309h3v1h-3zM74 310h3v1h-3zM77 311h2v1h-2zM79 312h3v1h-3zM82 313h3v1h-3zM85 314h2v1h-2zM87 315h2v1h-2zM89 316h3v1h-3zM92 317h2v1h-2zM94 318h2v1h-2zM96 319h2v1h-2zM98 320h2v1h-2zM100 321h2v1h-2zM102 322h2v1h-2zM104 323h2v1h-2zM106 324h2v1h-2zM108 325h2v1h-2zM110 326h3v1h-3zM113 327h3v1h-3zM116 328h3v1h-3zM119 329h2v1h-2zM121 330h1v1h-1zM122 331h1v1h-1zM123 332h2v1h-2zM125 333h1v1h-1zM126 334h1v1h-1zM127 335h1v1h-1zM128 336h1v1h-1zM129 337h1v1h-1zM130 338h1v1h-1zM131 339h1v1h-1zM132 340h1v1h-1zM133 341h1v1h-1zM134 342h1v1h-1zM135 343h1v1h-1zM136 344h1v1h-1zM137 345h1v1h-1zM138 346h1v1h-1zM139 347h1v1h-1zM140 348h1v1h-1zM141 349h1v1h-1zM142 350h1v1h-1zM143 351h1v1h-1zM144 352h1v1h-1zM145 353h1v1h-1zM146 354h1v1h-1zM147 355h1v1h-1zM148 356h1v1h-1zM149 357h1v1h-1zM150 358h1v1h-1zM151 359h1v1h-1zM152 360h1v1h-1zM153 361h1v1h-1zM154 362h1v1h-1zM155 363h1v1h-1zM156 364h1v1h-1zM157 365h1v1h-1zM158 366h1v1h-1zM159 367h1v1h-1zM160 368h1v1h-1zM161 369h1v1h-1zM162 370h1v1h-1zM163 371h2v1h-2zM165 372h1v1h-1zM166 373h1v1h-1zM167 374h1v1h-1zM168 375h2v1h-2zM170 376h1v1h-1zM171 377h1v1h-1zM172 378h2v1h-2zM174 379h1v1h-1zM175 380h2v1h-2zM177 381h1v1h-1zM178 382h2v1h-2zM180 383h3v1h-3zM183 384h3v1h-3zM186 385h4v1h-4zM190 386h4v1h-4zM194 387h16v1h-16zM210 388h6v1h-6zM216 389h6v1h-6zM222 390h3v1h-3zM225 391h2v1h-2zM227 392h2v1h-2zM229 393h2v1h-2zM231 394h2v1h-2zM233 395h2v1h-2zM235 396h2v1h-2zM237 397h1v1h-1zM238 398h2v1h-2zM240 399h2v1h-2zM242 400h3v1h-3zM245 401h2v1h-2zM247 402h2v1h-2zM249 403h2v1h-2zM251 404h3v1h-3zM254 405h2v1h-2zM256 406h2v1h-2zM258 407h3v1h-3zM261 408h2v1h-2zM263 409h3v1h-3zM266 410h2v1h-2zM268 411h2v1h-2zM270 412h2v1h-2zM272 413h4v1h-4zM276 414h4v1h-4zM280 415h5v1h-5zM285 416h27v1h-27zM312 415h8v1h-8zM320 414h7v1h-7zM327 413h4v1h-4zM331 412h5v1h-5zM336 411h4v1h-4zM340 410h2v1h-2zM342 409h3v1h-3zM345 408h4v1h-4zM349 407h4v1h-4zM353 406h5v1h-5zM358 405h4v1h-4zM362 404h5v1h-5zM367 403h3v1h-3zM370 402h2v1h-2zM372 401h3v1h-3zM375 400h2v1h-2zM377 399h2v1h-2zM379 398h3v1h-3zM382 397h2v1h-2zM384 396h2v1h-2zM386 395h3v1h-3zM389 394h2v1h-2zM391 393h2v1h-2zM393 392h2v1h-2zM395 391h1v1h-1zM396 390h2v1h-2zM398 389h1v1h-1zM399 388h2v1h-2zM401 387h1v1h-1zM402 386h2v1h-2zM404 385h1v1h-1zM405 384h2v1h-2zM407 383h1v1h-1zM408 382h2v1h-2zM410 381h1v1h-1zM411 380h2v1h-2zM413 379h1v1h-1zM414 378h2v1h-2zM416 377h1v1h-1zM417 376h2v1h-2zM419 375h1v1h-1zM420 374h2v1h-2zM422 373h2v1h-2zM424 372h1v1h-1zM425 371h2v1h-2zM427 370h2v1h-2zM429 369h2v1h-2zM431 368h2v1h-2zM433 367h2v1h-2zM435 366h2v1h-2zM437 365h2v1h-2zM439 364h2v1h-2zM441 363h13v1h-13zM454 362h3v1h-3zM457 361h4v1h-4zM461 360h3v1h-3zM464 359h3v1h-3zM467 358h3v1h-3zM470 357h2v1h-2zM472 356h2v1h-2zM474 355h2v1h-2zM476 354h2v1h-2zM478 353h2v1h-2zM480 352h2v1h-2zM482 351h2v1h-2zM484 350h2v1h-2zM486 349h2v1h-2zM488 348h3v1h-3zM491 347h4v1h-4zM495 346h9v1h-9zM504 347h7v1h-7zM511 348h6v1h-6zM517 349h5v1h-5zM522 350h6v1h-6zM528 351h3v1h-3zM531 352h2v1h-2zM533 353h2v1h-2zM535 354h2v1h-2zM537 355h2v1h-2zM539 356h2v1h-2zM541 357h2v1h-2zM543 358h2v1h-2zM545 359h3v1h-3zM548 360h2v1h-2zM550 361h3v1h-3zM553 362h3v1h-3zM556 363h2v1h-2zM558 364h3v1h-3zM561 365h3v1h-3zM564 366h4v1h-4zM568 367h3v1h-3zM571 368h4v1h-4zM575 369h4v1h-4zM579 370h5v1h-5zM584 371h5v1h-5zM589 372h10v1h-10zM599 373h15v1h-15zM614 372h5v1h-5zM619 371h3v1h-3zM622 370h2v1h-2zM624 369h2v1h-2zM626 368h3v1h-3zM629 367h2v1h-2zM631 366h3v1h-3zM634 365h2v1h-2zM636 364h2v1h-2zM638 363h3v1h-3zM641 362h2v1h-2zM643 361h5v1h-5zM648 360h4v1h-4zM652 359h1v1h-1zM653 358h2v1h-2zM655 357h1v1h-1zM656 356h2v1h-2zM658 355h2v1h-2zM660 354h1v1h-1zM661 353h2v1h-2zM663 352h2v1h-2zM665 351h1v1h-1zM666 350h1v1h-1zM667 349h2v1h-2zM669 348h1v1h-1zM670 347h1v1h-1zM671 346h1v1h-1zM672 345h1v1h-1zM673 344h2v1h-2zM675 343h1v1h-1zM676 342h1v1h-1zM677 341h1v1h-1zM678 340h1v1h-1zM679 339h1v1h-1zM680 338h2v1h-2zM682 337h1v1h-1zM683 336h1v1h-1zM684 335h1v1h-1zM685 334h2v1h-2zM687 333h2v1h-2zM689 332h1v1h-1zM690 331h2v1h-2zM692 330h1v1h-1zM693 329h2v1h-2zM695 328h1v1h-1zM696 327h2v1h-2zM698 326h1v1h-1zM699 325h2v1h-2zM701 324h1v1h-1zM702 323h1v1h-1zM703 322h1v1h-1zM704 321h2v1h-2zM706 320h1v1h-1zM707 319h1v1h-1zM708 318h1v1h-1zM709 317h1v1h-1zM710 316h2v1h-2zM712 315h1v1h-1zM713 314h1v1h-1zM714 313h1v1h-1zM715 312h3v1h-3zM718 311h2v1h-2zM720 310h2v1h-2zM722 309h1v1h-1zM723 308h2v1h-2zM725 307h1v1h-1zM726 306h1v1h-1zM727 305h1v1h-1zM728 304h1v1h-1zM729 303h1v1h-1zM730 302h1v1h-1zM731 301h1v1h-1zM732 300h1v1h-1zM733 299h1v1h-1zM734 298h1v1h-1zM735 297h1v1h-1zM736 296h2v1h-2zM738 295h1v1h-1zM739 294h1v1h-1zM740 293h1v1h-1zM741 292h1v1h-1zM742 291h1v1h-1zM743 290h1v1h-1zM744 289h1v1h-1zM745 288h1v1h-1zM746 287h2v1h-2zM748 286h1v1h-1zM749 285h1v1h-1zM750 284h1v1h-1zM751 283h1v1h-1zM752 282h2v1h-2zM754 281h1v1h-1zM755 280h1v1h-1zM756 279h2v1h-2zM758 278h1v1h-1zM759 277h1v1h-1zM760 276h2v1h-2zM762 275h1v1h-1zM763 274h1v1h-1zM764 273h2v1h-2zM766 272h1v1h-1zM767 271h1v1h-1zM768 270h1v1h-1zM769 269h2v1h-2zM771 268h1v1h-1zM772 267h1v1h-1zM773 266h1v1h-1zM774 265h1v1h-1zM775 264h2v1h-2zM777 263h1v1h-1zM778 262h1v1h-1zM779 261h2v1h-2zM781 260h1v1h-1zM782 259h1v1h-1zM783 258h1v1h-1zM784 257h2v1h-2zM786 256h1v1h-1zM787 255h1v1h-1zM788 254h2v1h-2zM790 253h2v1h-2zM792 252h2v1h-2zM794 251h1v1h-1zM795 250h2v1h-2zM797 249h2v1h-2zM799 248h2v1h-2zM801 247h2v1h-2zM803 246h2v1h-2zM805 245h2v1h-2zM807 244h2v1h-2zM809 243h2v1h-2zM811 242h2v1h-2zM813 241h3v1h-3zM816 240h2v1h-2zM818 239h2v1h-2zM820 238h2v1h-2zM822 237h2v1h-2zM824 236h2v1h-2zM826 235h2v1h-2zM828 234h2v1h-2zM830 233h2v1h-2zM832 232h1v1h-1zM833 231h2v1h-2zM835 230h2v1h-2zM837 229h2v1h-2zM839 228h3v1h-3zM842 227h2v1h-2zM844 226h3v1h-3zM847 225h2v1h-2zM849 224h3v1h-3zM852 223h3v1h-3zM855 222h3v1h-3zM858 221h2v1h-2zM860 220h3v1h-3zM863 219h3v1h-3zM866 218h3v1h-3zM869 217h3v1h-3zM872 216h2v1h-2zM874 215h2v1h-2zM876 214h1v1h-1zM877 213h2v1h-2zM879 212h2v1h-2zM881 211h1v1h-1zM882 210h2v1h-2zM884 209h1v1h-1zM885 208h3v1h-3zM888 207h2v1h-2zM890 206h2v1h-2zM892 205h2v1h-2zM894 204h3v1h-3zM897 203h2v1h-2zM899 202h3v1h-3zM902 201h2v1h-2zM904 200h3v1h-3zM907 199h2v1h-2zM909 198h2v1h-2zM911 197h3v1h-3zM914 196h3v1h-3zM917 195h3v1h-3zM920 194h4v1h-4zM924 193h3v1h-3zM927 192h3v1h-3zM930 191h6v1h-6zM936 190h7v1h-7zM943 189h7v1h-7zM950 188h5v1h-5zM955 187h6v1h-6zM961 186h5v1h-5zM966 185h5v1h-5zM971 184h3v1h-3zM974 183h4v1h-4zM978 182h3v1h-3zM981 181h3v1h-3zM984 180h4v1h-4zM988 179h4v1h-4zM992 178h4v1h-4zM996 177h4v1h-4zM1000 176h4v1h-4zM1004 175h2v1h-2zM1006 174h2v1h-2zM1008 173h2v1h-2zM1010 172h3v1h-3zM1013 171h2v1h-2zM1015 170h3v1h-3zM1018 169h3v1h-3zM1021 168h2v1h-2zM1023 167h3v1h-3zM1026 166h3v1h-3zM1029 165h3v1h-3zM1032 164h3v1h-3zM1035 163h4v1h-4zM1039 162h4v1h-4zM1043 161h5v1h-5zM1048 160h6v1h-6zM1054 159h7v1h-7zM1061 158h7v1h-7zM1068 157h6v1h-6zM1074 156h7v1h-7zM1081 155h10v1h-10zM1091 154h10v1h-10zM1101 153h9v1h-9zM1110 152h4v1h-4zM1114 151h5v1h-5zM1119 150h4v1h-4zM1123 149h3v1h-3zM1126 148h3v1h-3zM1129 147h5v1h-5zM1134 146h8v1h-8zM1142 145h7v1h-7zM1149 144h10v1h-10zM1159 143h15v1h-15zM1174 142h5v1h-5zM1179 141h5v1h-5zM1184 140h5v1h-5zM1189 139h5v1h-5zM1194 138h4v1h-4zM1198 137h5v1h-5zM1203 136h5v1h-5zM1208 135h5v1h-5zM1213 134h5v1h-5zM1218 133h5v1h-5zM1223 132h5v1h-5zM1228 131h3v1h-3zM1231 130h3v1h-3zM1234 129h4v1h-4zM1238 128h3v1h-3zM1241 127h3v1h-3zM1244 126h3v1h-3zM1247 125h3v1h-3zM1250 124h3v1h-3zM1253 123h3v1h-3zM1256 122h3v1h-3zM1259 121h3v1h-3zM1262 120h2v1h-2zM1264 119h3v1h-3zM1267 118h2v1h-2zM1269 117h3v1h-3zM1272 116h2v1h-2zM1274 115h2v1h-2zM1276 114h2v1h-2zM1278 113h2v1h-2zM1280 112h3v1h-3zM1283 111h4v1h-4zM1287 110h3v1h-3zM1290 109h4v1h-4zM1294 108h3v1h-3zM1297 107h4v1h-4zM1301 106h5v1h-5zM1306 105h4v1h-4zM1310 104h5v1h-5zM1315 103h2v1h-2zM1317 102h3v1h-3zM1320 101h2v1h-2zM1322 100h2v1h-2zM1324 99h2v1h-2zM1326 98h3v1h-3zM1329 97h2v1h-2zM1331 96h1v1h-1zM1332 95h2v1h-2zM1334 94h2v1h-2zM1336 93h2v1h-2zM1338 92h3v1h-3zM1341 91h2v1h-2zM1343 90h3v1h-3zM1346 89h3v1h-3zM1349 88h2v1h-2zM1351 87h4v1h-4zM1355 86h4v1h-4zM1359 85h4v1h-4zM1363 84h2v1h-2zM1365 83h2v1h-2zM1367 82h3v1h-3zM1370 81h2v1h-2zM1372 80h2v1h-2zM1374 79h3v1h-3zM1377 78h2v1h-2zM1379 77h2v1h-2zM1381 76h3v1h-3zM1384 75h2v1h-2zM1386 74h2v1h-2zM1388 73h2v1h-2zM1390 72h2v1h-2zM1392 71h2v1h-2z" fill="#ffa200" shape-rendering="crispEdges"/>
<rect x="2" y="26" width="1414" height="2" fill="#32cd32"/>
<rect x="2" y="28" width="1413" height="1" fill="#9498ba"/>
<rect x="2" y="96" width="1414" height="2" fill="#4169e1"/>
<rect x="2" y="161" width="1414" height="2" fill="#4169e1"/>
<rect x="2" y="241" width="1414" height="2" fill="#4169e1"/>
<text x="975.1" y="378.9" font-size="36.7" fill="#ed1c24" stroke="#ed1c24" stroke-width="0.3" textLength="182.5" lengthAdjust="spacing" shape-rendering="geometricPrecision" style="font-family:'Liberation Sans','Noto Sans CJK SC',sans-serif">多空转折点</text>
<text x="1155.6" y="376.1" font-family="Liberation Sans, sans-serif" font-size="36.6" fill="#ed1c24" textLength="83.5" lengthAdjust="spacingAndGlyphs">4675</text>
</g>
<g clip-path="url(#c2)" shape-rendering="crispEdges">
<rect x="2" y="530.0" width="1" height="19.0" fill="#c0c0c0"/>
<rect x="10" y="532.9" width="1" height="16.1" fill="#c0c0c0"/>
<rect x="18" y="539.1" width="1" height="9.9" fill="#c0c0c0"/>
<rect x="26" y="544.0" width="1" height="5.0" fill="#c0c0c0"/>
<rect x="34" y="548.0" width="1" height="4.8" fill="#c0c0c0"/>
<rect x="42" y="548.0" width="1" height="14.8" fill="#c0c0c0"/>
<rect x="50" y="548.0" width="1" height="20.8" fill="#c0c0c0"/>
<rect x="58" y="548.0" width="1" height="22.8" fill="#c0c0c0"/>
<rect x="66" y="548.0" width="1" height="23.8" fill="#c0c0c0"/>
<rect x="74" y="548.0" width="1" height="24.9" fill="#c0c0c0"/>
<rect x="82" y="548.0" width="1" height="26.9" fill="#c0c0c0"/>
<rect x="90" y="548.0" width="1" height="29.0" fill="#c0c0c0"/>
<rect x="98" y="548.0" width="1" height="29.0" fill="#c0c0c0"/>
<rect x="106" y="548.0" width="1" height="26.9" fill="#c0c0c0"/>
<rect x="114" y="548.0" width="1" height="23.8" fill="#c0c0c0"/>
<rect x="122" y="548.0" width="1" height="23.8" fill="#c0c0c0"/>
<rect x="130" y="548.0" width="1" height="29.0" fill="#c0c0c0"/>
<rect x="138" y="548.0" width="1" height="35.8" fill="#c0c0c0"/>
<rect x="146" y="548.0" width="1" height="39.9" fill="#c0c0c0"/>
<rect x="154" y="548.0" width="1" height="47.8" fill="#c0c0c0"/>
<rect x="162" y="548.0" width="1" height="52.7" fill="#c0c0c0"/>
<rect x="170" y="548.0" width="1" height="51.8" fill="#c0c0c0"/>
<rect x="178" y="548.0" width="1" height="48.9" fill="#c0c0c0"/>
<rect x="186" y="548.0" width="1" height="42.0" fill="#c0c0c0"/>
<rect x="194" y="548.0" width="1" height="35.8" fill="#c0c0c0"/>
<rect x="202" y="548.0" width="1" height="29.8" fill="#c0c0c0"/>
<rect x="210" y="548.0" width="1" height="27.8" fill="#c0c0c0"/>
<rect x="218" y="548.0" width="1" height="26.9" fill="#c0c0c0"/>
<rect x="226" y="548.0" width="1" height="25.7" fill="#c0c0c0"/>
<rect x="234" y="548.0" width="1" height="29.8" fill="#c0c0c0"/>
<rect x="242" y="548.0" width="1" height="31.8" fill="#c0c0c0"/>
<rect x="250" y="548.0" width="1" height="33.1" fill="#c0c0c0"/>
<rect x="258" y="548.0" width="1" height="33.9" fill="#c0c0c0"/>
<rect x="266" y="548.0" width="1" height="34.7" fill="#c0c0c0"/>
<rect x="274" y="548.0" width="1" height="31.4" fill="#c0c0c0"/>
<rect x="282" y="548.0" width="1" height="23.8" fill="#c0c0c0"/>
<rect x="290" y="548.0" width="1" height="20.0" fill="#c0c0c0"/>
<rect x="298" y="548.0" width="1" height="16.7" fill="#c0c0c0"/>
<rect x="306" y="548.0" width="1" height="15.9" fill="#c0c0c0"/>
<rect x="314" y="548.0" width="1" height="17.9" fill="#c0c0c0"/>
<rect x="322" y="548.0" width="1" height="20.8" fill="#c0c0c0"/>
<rect x="330" y="548.0" width="1" height="18.7" fill="#c0c0c0"/>
<rect x="338" y="548.0" width="1" height="11.8" fill="#c0c0c0"/>
<rect x="346" y="548.0" width="1" height="4.0" fill="#c0c0c0"/>
<rect x="354" y="546.0" width="1" height="3.0" fill="#c0c0c0"/>
<rect x="362" y="539.1" width="1" height="9.9" fill="#c0c0c0"/>
<rect x="370" y="532.1" width="1" height="16.9" fill="#c0c0c0"/>
<rect x="378" y="523.9" width="1" height="25.1" fill="#c0c0c0"/>
<rect x="386" y="521.0" width="1" height="28.0" fill="#c0c0c0"/>
<rect x="394" y="517.9" width="1" height="31.1" fill="#c0c0c0"/>
<rect x="402" y="516.9" width="1" height="32.1" fill="#c0c0c0"/>
<rect x="410" y="516.9" width="1" height="32.1" fill="#c0c0c0"/>
<rect x="418" y="516.9" width="1" height="32.1" fill="#c0c0c0"/>
<rect x="426" y="517.9" width="1" height="31.1" fill="#c0c0c0"/>
<rect x="434" y="521.0" width="1" height="28.0" fill="#c0c0c0"/>
<rect x="442" y="522.8" width="1" height="26.2" fill="#c0c0c0"/>
<rect x="450" y="528.0" width="1" height="21.0" fill="#c0c0c0"/>
<rect x="458" y="530.0" width="1" height="19.0" fill="#c0c0c0"/>
<rect x="466" y="532.1" width="1" height="16.9" fill="#c0c0c0"/>
<rect x="474" y="535.0" width="1" height="14.0" fill="#c0c0c0"/>
<rect x="482" y="532.1" width="1" height="16.9" fill="#c0c0c0"/>
<rect x="490" y="537.0" width="1" height="12.0" fill="#c0c0c0"/>
<rect x="498" y="541.9" width="1" height="7.1" fill="#c0c0c0"/>
<rect x="506" y="547.6" width="1" height="1.4" fill="#c0c0c0"/>
<rect x="514" y="548.0" width="1" height="2.9" fill="#c0c0c0"/>
<rect x="522" y="548.0" width="1" height="4.0" fill="#c0c0c0"/>
<rect x="530" y="548.0" width="1" height="4.0" fill="#c0c0c0"/>
<rect x="538" y="548.0" width="1" height="5.8" fill="#c0c0c0"/>
<rect x="546" y="548.0" width="1" height="8.9" fill="#c0c0c0"/>
<rect x="554" y="548.0" width="1" height="11.0" fill="#c0c0c0"/>
<rect x="562" y="548.0" width="1" height="11.0" fill="#c0c0c0"/>
<rect x="570" y="548.0" width="1" height="9.9" fill="#c0c0c0"/>
<rect x="578" y="548.0" width="1" height="9.9" fill="#c0c0c0"/>
<rect x="586" y="548.0" width="1" height="7.8" fill="#c0c0c0"/>
<rect x="594" y="548.0" width="1" height="5.0" fill="#c0c0c0"/>
<rect x="602" y="548.0" width="1" height="2.0" fill="#c0c0c0"/>
<rect x="610" y="547.1" width="1" height="1.9" fill="#c0c0c0"/>
<rect x="618" y="541.9" width="1" height="7.1" fill="#c0c0c0"/>
<rect x="626" y="535.0" width="1" height="14.0" fill="#c0c0c0"/>
<rect x="634" y="528.0" width="1" height="21.0" fill="#c0c0c0"/>
<rect x="642" y="521.0" width="1" height="28.0" fill="#c0c0c0"/>
<rect x="650" y="516.1" width="1" height="32.9" fill="#c0c0c0"/>
<rect x="658" y="512.0" width="1" height="37.0" fill="#c0c0c0"/>
<rect x="666" y="508.9" width="1" height="40.1" fill="#c0c0c0"/>
<rect x="674" y="506.0" width="1" height="43.0" fill="#c0c0c0"/>
<rect x="682" y="503.0" width="1" height="46.0" fill="#c0c0c0"/>
<rect x="690" y="501.1" width="1" height="47.9" fill="#c0c0c0"/>
<rect x="698" y="501.1" width="1" height="47.9" fill="#c0c0c0"/>
<rect x="706" y="501.1" width="1" height="47.9" fill="#c0c0c0"/>
<rect x="714" y="503.0" width="1" height="46.0" fill="#c0c0c0"/>
<rect x="722" y="505.1" width="1" height="43.9" fill="#c0c0c0"/>
<rect x="730" y="504.0" width="1" height="45.0" fill="#c0c0c0"/>
<rect x="738" y="503.0" width="1" height="46.0" fill="#c0c0c0"/>
<rect x="746" y="501.1" width="1" height="47.9" fill="#c0c0c0"/>
<rect x="754" y="501.1" width="1" height="47.9" fill="#c0c0c0"/>
<rect x="762" y="502.0" width="1" height="47.0" fill="#c0c0c0"/>
<rect x="770" y="499.9" width="1" height="49.1" fill="#c0c0c0"/>
<rect x="778" y="498.1" width="1" height="50.9" fill="#c0c0c0"/>
<rect x="786" y="497.0" width="1" height="52.0" fill="#c0c0c0"/>
<rect x="794" y="495.8" width="1" height="53.2" fill="#c0c0c0"/>
<rect x="802" y="495.8" width="1" height="53.2" fill="#c0c0c0"/>
<rect x="810" y="497.0" width="1" height="52.0" fill="#c0c0c0"/>
<rect x="818" y="498.1" width="1" height="50.9" fill="#c0c0c0"/>
<rect x="826" y="497.0" width="1" height="52.0" fill="#c0c0c0"/>
<rect x="834" y="498.1" width="1" height="50.9" fill="#c0c0c0"/>
<rect x="842" y="499.1" width="1" height="49.9" fill="#c0c0c0"/>
<rect x="850" y="501.1" width="1" height="47.9" fill="#c0c0c0"/>
<rect x="858" y="503.0" width="1" height="46.0" fill="#c0c0c0"/>
<rect x="866" y="506.0" width="1" height="43.0" fill="#c0c0c0"/>
<rect x="874" y="507.1" width="1" height="41.9" fill="#c0c0c0"/>
<rect x="882" y="506.0" width="1" height="43.0" fill="#c0c0c0"/>
<rect x="890" y="507.9" width="1" height="41.1" fill="#c0c0c0"/>
<rect x="898" y="507.9" width="1" height="41.1" fill="#c0c0c0"/>
<rect x="906" y="508.9" width="1" height="40.1" fill="#c0c0c0"/>
<rect x="914" y="508.9" width="1" height="40.1" fill="#c0c0c0"/>
<rect x="922" y="513.0" width="1" height="36.0" fill="#c0c0c0"/>
<rect x="930" y="514.1" width="1" height="34.9" fill="#c0c0c0"/>
<rect x="938" y="516.1" width="1" height="32.9" fill="#c0c0c0"/>
<rect x="946" y="519.0" width="1" height="30.0" fill="#c0c0c0"/>
<rect x="954" y="520.2" width="1" height="28.8" fill="#c0c0c0"/>
<rect x="962" y="520.2" width="1" height="28.8" fill="#c0c0c0"/>
<rect x="970" y="521.0" width="1" height="28.0" fill="#c0c0c0"/>
<rect x="978" y="520.2" width="1" height="28.8" fill="#c0c0c0"/>
<rect x="986" y="519.0" width="1" height="30.0" fill="#c0c0c0"/>
<rect x="994" y="517.9" width="1" height="31.1" fill="#c0c0c0"/>
<rect x="1002" y="516.1" width="1" height="32.9" fill="#c0c0c0"/>
<rect x="1010" y="514.9" width="1" height="34.1" fill="#c0c0c0"/>
<rect x="1018" y="513.8" width="1" height="35.2" fill="#c0c0c0"/>
<rect x="1026" y="513.8" width="1" height="35.2" fill="#c0c0c0"/>
<rect x="1034" y="516.1" width="1" height="32.9" fill="#c0c0c0"/>
<rect x="1042" y="517.1" width="1" height="31.9" fill="#c0c0c0"/>
<rect x="1050" y="519.0" width="1" height="30.0" fill="#c0c0c0"/>
<rect x="1058" y="519.0" width="1" height="30.0" fill="#c0c0c0"/>
<rect x="1066" y="522.0" width="1" height="27.0" fill="#c0c0c0"/>
<rect x="1074" y="523.9" width="1" height="25.1" fill="#c0c0c0"/>
<rect x="1082" y="528.0" width="1" height="21.0" fill="#c0c0c0"/>
<rect x="1090" y="530.9" width="1" height="18.1" fill="#c0c0c0"/>
<rect x="1098" y="532.9" width="1" height="16.1" fill="#c0c0c0"/>
<rect x="1106" y="535.0" width="1" height="14.0" fill="#c0c0c0"/>
<rect x="1114" y="535.8" width="1" height="13.2" fill="#c0c0c0"/>
<rect x="1122" y="535.0" width="1" height="14.0" fill="#c0c0c0"/>
<rect x="1130" y="531.8" width="1" height="17.2" fill="#c0c0c0"/>
<rect x="1138" y="531.8" width="1" height="17.2" fill="#c0c0c0"/>
<rect x="1146" y="531.8" width="1" height="17.2" fill="#c0c0c0"/>
<rect x="1154" y="532.1" width="1" height="16.9" fill="#c0c0c0"/>
<rect x="1162" y="532.9" width="1" height="16.1" fill="#c0c0c0"/>
<rect x="1170" y="532.9" width="1" height="16.1" fill="#c0c0c0"/>
<rect x="1178" y="530.0" width="1" height="19.0" fill="#c0c0c0"/>
<rect x="1186" y="528.0" width="1" height="21.0" fill="#c0c0c0"/>
<rect x="1194" y="525.1" width="1" height="23.9" fill="#c0c0c0"/>
<rect x="1202" y="523.9" width="1" height="25.1" fill="#c0c0c0"/>
<rect x="1210" y="522.8" width="1" height="26.2" fill="#c0c0c0"/>
<rect x="1218" y="521.0" width="1" height="28.0" fill="#c0c0c0"/>
<rect x="1226" y="522.0" width="1" height="27.0" fill="#c0c0c0"/>
<rect x="1234" y="523.6" width="1" height="25.4" fill="#c0c0c0"/>
<rect x="1242" y="524.2" width="1" height="24.8" fill="#c0c0c0"/>
<rect x="1250" y="525.1" width="1" height="23.9" fill="#c0c0c0"/>
<rect x="1258" y="526.0" width="1" height="23.0" fill="#c0c0c0"/>
<rect x="1266" y="526.9" width="1" height="22.1" fill="#c0c0c0"/>
<rect x="1274" y="526.0" width="1" height="23.0" fill="#c0c0c0"/>
<rect x="1282" y="524.2" width="1" height="24.8" fill="#c0c0c0"/>
<rect x="1290" y="523.9" width="1" height="25.1" fill="#c0c0c0"/>
<rect x="1298" y="524.2" width="1" height="24.8" fill="#c0c0c0"/>
<rect x="1306" y="524.7" width="1" height="24.3" fill="#c0c0c0"/>
<rect x="1314" y="525.2" width="1" height="23.8" fill="#c0c0c0"/>
<rect x="1322" y="526.0" width="1" height="23.0" fill="#c0c0c0"/>
<rect x="1330" y="522.0" width="1" height="27.0" fill="#c0c0c0"/>
<rect x="1338" y="519.0" width="1" height="30.0" fill="#c0c0c0"/>
<rect x="1346" y="517.1" width="1" height="31.9" fill="#c0c0c0"/>
<rect x="1354" y="516.1" width="1" height="32.9" fill="#c0c0c0"/>
<rect x="1362" y="514.9" width="1" height="34.1" fill="#c0c0c0"/>
<rect x="1370" y="513.0" width="1" height="36.0" fill="#c0c0c0"/>
<rect x="1378" y="512.0" width="1" height="37.0" fill="#c0c0c0"/>
<rect x="1386" y="510.9" width="1" height="38.1" fill="#c0c0c0"/>
<rect x="1394" y="510.0" width="1" height="39.0" fill="#c0c0c0"/>
<path d="M2 526h1v1h-1zM3 526h1v1h-1zM4 526h1v1h-1zM8 526h1v1h-1zM9 526h1v1h-1zM10 526h1v1h-1zM14 526h1v1h-1zM15 526h1v1h-1zM16 527h1v1h-1zM20 527h1v1h-1zM21 527h1v1h-1zM22 528h1v1h-1zM26 529h1v1h-1zM27 529h1v1h-1zM28 530h1v1h-1zM32 532h1v1h-1zM33 532h1v1h-1zM34 533h1v1h-1zM38 535h1v1h-1zM39 535h1v1h-1zM40 536h1v1h-1zM44 538h1v1h-1zM45 539h1v1h-1zM46 539h1v1h-1zM50 542h1v1h-1zM51 543h1v1h-1zM52 543h1v1h-1zM56 545h1v1h-1zM57 546h1v1h-1zM58 546h1v1h-1zM62 549h1v1h-1zM63 550h1v1h-1zM64 551h1v1h-1zM68 553h1v1h-1zM69 554h1v1h-1zM70 555h1v1h-1zM74 557h1v1h-1zM75 558h1v1h-1zM76 558h1v1h-1zM80 561h1v1h-1zM81 561h1v1h-1zM82 562h1v1h-1zM86 564h1v1h-1zM87 564h1v1h-1zM88 565h1v1h-1zM92 567h1v1h-1zM93 567h1v1h-1zM94 568h1v1h-1zM98 569h1v1h-1zM99 570h1v1h-1zM100 570h1v1h-1zM104 571h1v1h-1zM105 571h1v1h-1zM106 572h1v1h-1zM110 573h1v1h-1zM111 573h1v1h-1zM112 573h1v1h-1zM116 573h1v1h-1zM117 573h1v1h-1zM118 573h1v1h-1zM122 574h1v1h-1zM123 574h1v1h-1zM124 574h1v1h-1zM128 574h1v1h-1zM129 574h1v1h-1zM130 574h1v1h-1zM134 575h1v1h-1zM135 575h1v1h-1zM136 575h1v1h-1zM140 576h1v1h-1zM141 576h1v1h-1zM142 576h1v1h-1zM146 576h1v1h-1zM147 577h1v1h-1zM148 577h1v1h-1zM152 580h1v1h-1zM153 580h1v1h-1zM154 580h1v1h-1zM158 581h1v1h-1zM159 581h1v1h-1zM160 581h1v1h-1zM164 582h1v1h-1zM165 583h1v1h-1zM166 583h1v1h-1zM170 584h1v1h-1zM171 585h1v1h-1zM172 585h1v1h-1zM176 586h1v1h-1zM177 587h1v1h-1zM178 587h1v1h-1zM182 588h1v1h-1zM183 588h1v1h-1zM184 588h1v1h-1zM188 589h1v1h-1zM189 589h1v1h-1zM190 590h1v1h-1zM194 591h1v1h-1zM195 591h1v1h-1zM196 591h1v1h-1zM200 591h1v1h-1zM201 591h1v1h-1zM202 591h1v1h-1zM206 590h1v1h-1zM207 590h1v1h-1zM208 590h1v1h-1zM212 589h1v1h-1zM213 589h1v1h-1zM214 589h1v1h-1zM218 588h1v1h-1zM219 588h1v1h-1zM220 587h1v1h-1zM224 586h1v1h-1zM225 586h1v1h-1zM226 586h1v1h-1zM230 585h1v1h-1zM231 584h1v1h-1zM232 584h1v1h-1zM236 583h1v1h-1zM237 583h1v1h-1zM238 582h1v1h-1zM242 581h1v1h-1zM243 581h1v1h-1zM244 581h1v1h-1zM248 580h1v1h-1zM249 580h1v1h-1zM250 580h1v1h-1zM254 580h1v1h-1zM255 579h1v1h-1zM256 579h1v1h-1zM260 579h1v1h-1zM261 579h1v1h-1zM262 579h1v1h-1zM266 579h1v1h-1zM267 579h1v1h-1zM268 579h1v1h-1zM272 579h1v1h-1zM273 579h1v1h-1zM274 579h1v1h-1zM278 579h1v1h-1zM279 578h1v1h-1zM280 578h1v1h-1zM284 578h1v1h-1zM285 578h1v1h-1zM286 578h1v1h-1zM290 578h1v1h-1zM291 578h1v1h-1zM292 577h1v1h-1zM296 577h1v1h-1zM297 577h1v1h-1zM298 577h1v1h-1zM302 576h1v1h-1zM303 576h1v1h-1zM304 575h1v1h-1zM308 574h1v1h-1zM309 574h1v1h-1zM310 573h1v1h-1zM314 573h1v1h-1zM315 573h1v1h-1zM316 573h1v1h-1zM320 572h1v1h-1zM321 572h1v1h-1zM322 572h1v1h-1zM326 571h1v1h-1zM327 570h1v1h-1zM328 570h1v1h-1zM332 569h1v1h-1zM333 569h1v1h-1zM334 569h1v1h-1zM338 568h1v1h-1zM339 568h1v1h-1zM340 567h1v1h-1zM344 565h1v1h-1zM345 565h1v1h-1zM346 564h1v1h-1zM350 563h1v1h-1zM351 563h1v1h-1zM352 563h1v1h-1zM356 561h1v1h-1zM357 560h1v1h-1zM358 560h1v1h-1zM362 558h1v1h-1zM363 558h1v1h-1zM364 557h1v1h-1zM368 555h1v1h-1zM369 555h1v1h-1zM370 554h1v1h-1zM374 552h1v1h-1zM375 552h1v1h-1zM376 551h1v1h-1zM380 549h1v1h-1zM381 548h1v1h-1zM382 547h1v1h-1zM386 545h1v1h-1zM387 544h1v1h-1zM388 543h1v1h-1zM392 540h1v1h-1zM393 540h1v1h-1zM394 539h1v1h-1zM398 537h1v1h-1zM399 536h1v1h-1zM400 535h1v1h-1zM404 532h1v1h-1zM405 532h1v1h-1zM406 531h1v1h-1zM410 528h1v1h-1zM411 528h1v1h-1zM412 527h1v1h-1zM416 525h1v1h-1zM417 525h1v1h-1zM418 525h1v1h-1zM422 523h1v1h-1zM423 523h1v1h-1zM424 523h1v1h-1zM428 522h1v1h-1zM429 521h1v1h-1zM430 521h1v1h-1zM434 520h1v1h-1zM435 520h1v1h-1zM436 520h1v1h-1zM440 520h1v1h-1zM441 520h1v1h-1zM442 519h1v1h-1zM446 519h1v1h-1zM447 519h1v1h-1zM448 519h1v1h-1zM452 519h1v1h-1zM453 519h1v1h-1zM454 519h1v1h-1zM458 520h1v1h-1zM459 520h1v1h-1zM460 520h1v1h-1zM464 521h1v1h-1zM465 521h1v1h-1zM466 521h1v1h-1zM470 522h1v1h-1zM471 522h1v1h-1zM472 522h1v1h-1zM476 523h1v1h-1zM477 523h1v1h-1zM478 524h1v1h-1zM482 525h1v1h-1zM483 525h1v1h-1zM484 525h1v1h-1zM488 526h1v1h-1zM489 527h1v1h-1zM490 527h1v1h-1zM494 528h1v1h-1zM495 529h1v1h-1zM496 529h1v1h-1zM500 531h1v1h-1zM501 531h1v1h-1zM502 531h1v1h-1zM506 533h1v1h-1zM507 533h1v1h-1zM508 534h1v1h-1zM512 535h1v1h-1zM513 536h1v1h-1zM514 536h1v1h-1zM518 538h1v1h-1zM519 538h1v1h-1zM520 538h1v1h-1zM524 540h1v1h-1zM525 540h1v1h-1zM526 540h1v1h-1zM530 541h1v1h-1zM531 542h1v1h-1zM532 542h1v1h-1zM536 543h1v1h-1zM537 544h1v1h-1zM538 544h1v1h-1zM542 545h1v1h-1zM543 546h1v1h-1zM544 546h1v1h-1zM548 547h1v1h-1zM549 548h1v1h-1zM550 548h1v1h-1zM554 549h1v1h-1zM555 550h1v1h-1zM556 550h1v1h-1zM560 552h1v1h-1zM561 552h1v1h-1zM562 552h1v1h-1zM566 553h1v1h-1zM567 553h1v1h-1zM568 553h1v1h-1zM572 554h1v1h-1zM573 554h1v1h-1zM574 554h1v1h-1zM578 555h1v1h-1zM579 555h1v1h-1zM580 555h1v1h-1zM584 556h1v1h-1zM585 556h1v1h-1zM586 556h1v1h-1zM590 556h1v1h-1zM591 556h1v1h-1zM592 556h1v1h-1zM596 556h1v1h-1zM597 556h1v1h-1zM598 556h1v1h-1zM602 556h1v1h-1zM603 556h1v1h-1zM604 556h1v1h-1zM608 555h1v1h-1zM609 555h1v1h-1zM610 555h1v1h-1zM614 554h1v1h-1zM615 553h1v1h-1zM616 553h1v1h-1zM620 552h1v1h-1zM621 552h1v1h-1zM622 551h1v1h-1zM626 550h1v1h-1zM627 550h1v1h-1zM628 550h1v1h-1zM632 548h1v1h-1zM633 547h1v1h-1zM634 547h1v1h-1zM638 545h1v1h-1zM639 544h1v1h-1zM640 543h1v1h-1zM644 541h1v1h-1zM645 540h1v1h-1zM646 540h1v1h-1zM650 537h1v1h-1zM651 537h1v1h-1zM652 536h1v1h-1zM656 534h1v1h-1zM657 534h1v1h-1zM658 533h1v1h-1zM662 531h1v1h-1zM663 530h1v1h-1zM664 530h1v1h-1zM668 527h1v1h-1zM669 526h1v1h-1zM670 525h1v1h-1zM674 522h1v1h-1zM675 522h1v1h-1zM676 521h1v1h-1zM680 519h1v1h-1zM681 519h1v1h-1zM682 518h1v1h-1zM686 515h1v1h-1zM687 514h1v1h-1zM688 514h1v1h-1zM692 512h1v1h-1zM693 512h1v1h-1zM694 511h1v1h-1zM698 510h1v1h-1zM699 509h1v1h-1zM700 509h1v1h-1zM704 508h1v1h-1zM705 507h1v1h-1zM706 507h1v1h-1zM710 506h1v1h-1zM711 505h1v1h-1zM712 505h1v1h-1zM716 504h1v1h-1zM717 504h1v1h-1zM718 504h1v1h-1zM722 503h1v1h-1zM723 503h1v1h-1zM724 503h1v1h-1zM728 503h1v1h-1zM729 503h1v1h-1zM730 503h1v1h-1zM734 502h1v1h-1zM735 502h1v1h-1zM736 502h1v1h-1zM740 502h1v1h-1zM741 502h1v1h-1zM742 501h1v1h-1zM746 501h1v1h-1zM747 501h1v1h-1zM748 501h1v1h-1zM752 501h1v1h-1zM753 501h1v1h-1zM754 501h1v1h-1zM758 502h1v1h-1zM759 502h1v1h-1zM760 502h1v1h-1zM764 502h1v1h-1zM765 502h1v1h-1zM766 501h1v1h-1zM770 501h1v1h-1zM771 501h1v1h-1zM772 501h1v1h-1zM776 501h1v1h-1zM777 501h1v1h-1zM778 501h1v1h-1zM782 501h1v1h-1zM783 501h1v1h-1zM784 501h1v1h-1zM788 501h1v1h-1zM789 501h1v1h-1zM790 500h1v1h-1zM794 500h1v1h-1zM795 500h1v1h-1zM796 499h1v1h-1zM800 499h1v1h-1zM801 499h1v1h-1zM802 499h1v1h-1zM806 499h1v1h-1zM807 498h1v1h-1zM808 498h1v1h-1zM812 498h1v1h-1zM813 498h1v1h-1zM814 498h1v1h-1zM818 498h1v1h-1zM819 498h1v1h-1zM820 498h1v1h-1zM824 497h1v1h-1zM825 497h1v1h-1zM826 497h1v1h-1zM830 497h1v1h-1zM831 497h1v1h-1zM832 497h1v1h-1zM836 497h1v1h-1zM837 497h1v1h-1zM838 497h1v1h-1zM842 497h1v1h-1zM843 497h1v1h-1zM844 497h1v1h-1zM848 497h1v1h-1zM849 497h1v1h-1zM850 497h1v1h-1zM854 497h1v1h-1zM855 497h1v1h-1zM856 497h1v1h-1zM860 497h1v1h-1zM861 498h1v1h-1zM862 498h1v1h-1zM866 499h1v1h-1zM867 499h1v1h-1zM868 499h1v1h-1zM872 499h1v1h-1zM873 499h1v1h-1zM874 500h1v1h-1zM878 500h1v1h-1zM879 500h1v1h-1zM880 501h1v1h-1zM884 501h1v1h-1zM885 501h1v1h-1zM886 501h1v1h-1zM890 502h1v1h-1zM891 502h1v1h-1zM892 502h1v1h-1zM896 503h1v1h-1zM897 503h1v1h-1zM898 503h1v1h-1zM902 503h1v1h-1zM903 503h1v1h-1zM904 504h1v1h-1zM908 504h1v1h-1zM909 504h1v1h-1zM910 504h1v1h-1zM914 504h1v1h-1zM915 505h1v1h-1zM916 505h1v1h-1zM920 506h1v1h-1zM921 506h1v1h-1zM922 507h1v1h-1zM926 507h1v1h-1zM927 507h1v1h-1zM928 508h1v1h-1zM932 508h1v1h-1zM933 508h1v1h-1zM934 508h1v1h-1zM938 509h1v1h-1zM939 509h1v1h-1zM940 509h1v1h-1zM944 510h1v1h-1zM945 510h1v1h-1zM946 510h1v1h-1zM950 511h1v1h-1zM951 511h1v1h-1zM952 511h1v1h-1zM956 512h1v1h-1zM957 512h1v1h-1zM958 512h1v1h-1zM962 513h1v1h-1zM963 513h1v1h-1zM964 513h1v1h-1zM968 514h1v1h-1zM969 514h1v1h-1zM970 514h1v1h-1zM974 515h1v1h-1zM975 515h1v1h-1zM976 515h1v1h-1zM980 516h1v1h-1zM981 516h1v1h-1zM982 516h1v1h-1zM986 516h1v1h-1zM987 516h1v1h-1zM988 517h1v1h-1zM992 517h1v1h-1zM993 517h1v1h-1zM994 517h1v1h-1zM998 517h1v1h-1zM999 518h1v1h-1zM1000 518h1v1h-1zM1004 518h1v1h-1zM1005 518h1v1h-1zM1006 518h1v1h-1zM1010 518h1v1h-1zM1011 518h1v1h-1zM1012 518h1v1h-1zM1016 517h1v1h-1zM1017 517h1v1h-1zM1018 517h1v1h-1zM1022 517h1v1h-1zM1023 516h1v1h-1zM1024 516h1v1h-1zM1028 516h1v1h-1zM1029 516h1v1h-1zM1030 516h1v1h-1zM1034 516h1v1h-1zM1035 516h1v1h-1zM1036 516h1v1h-1zM1040 515h1v1h-1zM1041 515h1v1h-1zM1042 515h1v1h-1zM1046 515h1v1h-1zM1047 515h1v1h-1zM1048 515h1v1h-1zM1052 515h1v1h-1zM1053 515h1v1h-1zM1054 515h1v1h-1zM1058 515h1v1h-1zM1059 515h1v1h-1zM1060 515h1v1h-1zM1064 515h1v1h-1zM1065 516h1v1h-1zM1066 516h1v1h-1zM1070 517h1v1h-1zM1071 517h1v1h-1zM1072 517h1v1h-1zM1076 517h1v1h-1zM1077 517h1v1h-1zM1078 517h1v1h-1zM1082 518h1v1h-1zM1083 518h1v1h-1zM1084 518h1v1h-1zM1088 519h1v1h-1zM1089 520h1v1h-1zM1090 520h1v1h-1zM1094 521h1v1h-1zM1095 521h1v1h-1zM1096 521h1v1h-1zM1100 522h1v1h-1zM1101 523h1v1h-1zM1102 523h1v1h-1zM1106 524h1v1h-1zM1107 524h1v1h-1zM1108 525h1v1h-1zM1112 526h1v1h-1zM1113 527h1v1h-1zM1114 527h1v1h-1zM1118 528h1v1h-1zM1119 528h1v1h-1zM1120 528h1v1h-1zM1124 529h1v1h-1zM1125 529h1v1h-1zM1126 529h1v1h-1zM1130 530h1v1h-1zM1131 530h1v1h-1zM1132 530h1v1h-1zM1136 531h1v1h-1zM1137 531h1v1h-1zM1138 531h1v1h-1zM1142 532h1v1h-1zM1143 532h1v1h-1zM1144 532h1v1h-1zM1148 532h1v1h-1zM1149 532h1v1h-1zM1150 532h1v1h-1zM1154 532h1v1h-1zM1155 532h1v1h-1zM1156 532h1v1h-1zM1160 532h1v1h-1zM1161 533h1v1h-1zM1162 533h1v1h-1zM1166 533h1v1h-1zM1167 533h1v1h-1zM1168 533h1v1h-1zM1172 533h1v1h-1zM1173 533h1v1h-1zM1174 532h1v1h-1zM1178 532h1v1h-1zM1179 532h1v1h-1zM1180 531h1v1h-1zM1184 531h1v1h-1zM1185 531h1v1h-1zM1186 531h1v1h-1zM1190 530h1v1h-1zM1191 530h1v1h-1zM1192 530h1v1h-1zM1196 529h1v1h-1zM1197 529h1v1h-1zM1198 529h1v1h-1zM1202 529h1v1h-1zM1203 528h1v1h-1zM1204 528h1v1h-1zM1208 528h1v1h-1zM1209 528h1v1h-1zM1210 528h1v1h-1zM1214 527h1v1h-1zM1215 527h1v1h-1zM1216 527h1v1h-1zM1220 527h1v1h-1zM1221 527h1v1h-1zM1222 526h1v1h-1zM1226 526h1v1h-1zM1227 525h1v1h-1zM1228 525h1v1h-1zM1232 524h1v1h-1zM1233 524h1v1h-1zM1234 523h1v1h-1zM1238 523h1v1h-1zM1239 523h1v1h-1zM1240 523h1v1h-1zM1244 523h1v1h-1zM1245 523h1v1h-1zM1246 523h1v1h-1zM1250 523h1v1h-1zM1251 523h1v1h-1zM1252 523h1v1h-1zM1256 523h1v1h-1zM1257 523h1v1h-1zM1258 523h1v1h-1zM1262 523h1v1h-1zM1263 523h1v1h-1zM1264 523h1v1h-1zM1268 523h1v1h-1zM1269 523h1v1h-1zM1270 523h1v1h-1zM1274 523h1v1h-1zM1275 523h1v1h-1zM1276 523h1v1h-1zM1280 523h1v1h-1zM1281 523h1v1h-1zM1282 523h1v1h-1zM1286 523h1v1h-1zM1287 524h1v1h-1zM1288 524h1v1h-1zM1292 524h1v1h-1zM1293 524h1v1h-1zM1294 524h1v1h-1zM1298 524h1v1h-1zM1299 524h1v1h-1zM1300 524h1v1h-1zM1304 524h1v1h-1zM1305 524h1v1h-1zM1306 524h1v1h-1zM1310 524h1v1h-1zM1311 524h1v1h-1zM1312 524h1v1h-1zM1316 524h1v1h-1zM1317 524h1v1h-1zM1318 524h1v1h-1zM1322 524h1v1h-1zM1323 524h1v1h-1zM1324 524h1v1h-1zM1328 524h1v1h-1zM1329 524h1v1h-1zM1330 524h1v1h-1zM1334 523h1v1h-1zM1335 523h1v1h-1zM1336 523h1v1h-1zM1340 523h1v1h-1zM1341 523h1v1h-1zM1342 522h1v1h-1zM1346 522h1v1h-1zM1347 522h1v1h-1zM1348 522h1v1h-1zM1352 521h1v1h-1zM1353 521h1v1h-1zM1354 521h1v1h-1zM1358 521h1v1h-1zM1359 520h1v1h-1zM1360 520h1v1h-1zM1364 520h1v1h-1zM1365 520h1v1h-1zM1366 519h1v1h-1zM1370 519h1v1h-1zM1371 518h1v1h-1zM1372 518h1v1h-1zM1376 517h1v1h-1zM1377 517h1v1h-1zM1378 517h1v1h-1zM1382 516h1v1h-1zM1383 516h1v1h-1zM1384 516h1v1h-1zM1388 515h1v1h-1zM1389 515h1v1h-1zM1390 515h1v1h-1z" fill="#ff0000" shape-rendering="crispEdges"/>
</g>
<g clip-path="url(#c3)" shape-rendering="crispEdges">
<line x1="3" y1="640.5" x2="1415" y2="640.5" stroke="#c0c0c0" stroke-width="1" stroke-dasharray="3 3"/>
<line x1="3" y1="680.5" x2="1415" y2="680.5" stroke="#c0c0c0" stroke-width="1" stroke-dasharray="3 3"/>
<path d="M2 658h9v1h-9zM11 659h1v1h-1zM12 660h1v1h-1zM13 661h1v1h-1zM14 662h1v1h-1zM15 663h1v1h-1zM16 664h1v1h-1zM17 665h1v2h-1zM18 667h5v1h-5zM23 668h4v1h-4zM27 669h1v1h-1zM28 670h1v2h-1zM29 672h1v1h-1zM30 673h1v2h-1zM31 675h1v1h-1zM32 676h1v2h-1zM33 678h1v1h-1zM34 679h1v2h-1zM35 680h5v1h-5zM40 681h3v1h-3zM43 680h2v1h-2zM45 679h2v1h-2zM47 678h2v1h-2zM49 677h2v1h-2zM51 676h2v1h-2zM53 675h2v1h-2zM55 674h2v1h-2zM57 673h1v1h-1zM58 672h2v1h-2zM60 671h3v1h-3zM63 670h2v1h-2zM65 669h5v1h-5zM70 670h3v1h-3zM73 671h7v1h-7zM80 672h4v1h-4zM84 673h3v1h-3zM87 674h2v1h-2zM89 675h2v1h-2zM91 674h2v1h-2zM93 673h1v1h-1zM94 672h2v1h-2zM96 671h2v1h-2zM98 670h1v1h-1zM99 669h2v1h-2zM101 668h2v1h-2zM103 667h2v1h-2zM105 666h2v1h-2zM107 665h3v1h-3zM110 664h2v1h-2zM112 663h4v1h-4zM116 664h2v1h-2zM118 665h1v1h-1zM119 666h2v1h-2zM121 667h1v1h-1zM122 668h1v1h-1zM123 669h1v1h-1zM124 670h1v1h-1zM125 671h1v1h-1zM126 672h1v1h-1zM127 673h1v1h-1zM128 674h1v1h-1zM129 675h1v1h-1zM130 676h1v1h-1zM131 677h2v1h-2zM133 678h2v1h-2zM135 679h1v1h-1zM136 680h2v1h-2zM138 681h2v1h-2zM140 680h2v1h-2zM142 679h3v1h-3zM145 678h3v1h-3zM148 679h1v1h-1zM149 680h2v1h-2zM151 681h1v1h-1zM152 682h2v1h-2zM154 683h4v1h-4zM158 682h5v1h-5zM163 680h1v2h-1zM164 679h1v1h-1zM165 678h1v1h-1zM166 676h1v2h-1zM167 675h1v1h-1zM168 674h1v1h-1zM169 672h1v2h-1zM170 671h2v1h-2zM172 670h3v1h-3zM175 669h2v1h-2zM177 668h2v1h-2zM179 667h2v1h-2zM181 666h1v1h-1zM182 665h1v1h-1zM183 664h2v1h-2zM185 663h1v1h-1zM186 662h4v1h-4zM190 661h5v1h-5zM195 660h4v1h-4zM199 659h5v1h-5zM204 660h1v1h-1zM205 661h1v1h-1zM206 662h2v1h-2zM208 663h1v1h-1zM209 664h1v1h-1zM210 665h6v1h-6zM216 666h5v1h-5zM221 665h6v1h-6zM227 666h1v1h-1zM228 667h1v1h-1zM229 668h1v1h-1zM230 669h1v1h-1zM231 670h1v1h-1zM232 671h1v1h-1zM233 672h1v1h-1zM234 673h4v1h-4zM238 672h14v1h-14zM252 671h4v1h-4zM256 670h5v1h-5zM261 671h4v1h-4zM265 672h2v1h-2zM267 671h1v1h-1zM268 670h1v1h-1zM269 669h1v1h-1zM270 668h1v1h-1zM271 667h1v1h-1zM272 666h2v1h-2zM274 665h1v1h-1zM275 663h1v2h-1zM276 662h1v1h-1zM277 661h1v1h-1zM278 660h1v1h-1zM279 658h1v2h-1zM280 657h1v1h-1zM281 656h1v1h-1zM282 655h2v1h-2zM284 656h2v1h-2zM286 657h2v1h-2zM288 658h2v1h-2zM290 659h4v1h-4zM294 660h4v1h-4zM298 661h4v1h-4zM302 662h4v1h-4zM306 663h2v1h-2zM308 664h2v1h-2zM310 665h1v1h-1zM311 666h2v1h-2zM313 667h1v1h-1zM314 668h5v1h-5zM319 669h4v1h-4zM323 668h1v1h-1zM324 667h1v1h-1zM325 666h2v1h-2zM327 665h1v1h-1zM328 664h1v1h-1zM329 663h1v1h-1zM330 662h1v1h-1zM331 661h1v1h-1zM332 660h1v1h-1zM333 659h1v1h-1zM334 658h1v1h-1zM335 657h1v1h-1zM336 656h1v1h-1zM337 655h1v1h-1zM338 654h1v1h-1zM339 653h3v1h-3zM342 652h2v1h-2zM344 651h4v1h-4zM348 650h8v1h-8zM356 649h7v1h-7zM363 648h3v1h-3zM366 647h2v1h-2zM368 646h3v1h-3zM371 645h2v1h-2zM373 644h2v1h-2zM375 643h2v1h-2zM377 642h2v1h-2zM379 643h1v1h-1zM380 644h1v1h-1zM381 645h1v1h-1zM382 646h1v1h-1zM383 647h1v1h-1zM384 648h1v2h-1zM385 650h1v1h-1zM386 651h2v1h-2zM388 650h4v1h-4zM392 649h5v1h-5zM397 650h4v1h-4zM401 651h20v1h-20zM421 652h4v1h-4zM425 653h4v1h-4zM429 654h4v1h-4zM433 655h10v1h-10zM443 656h1v1h-1zM444 657h2v1h-2zM446 658h1v1h-1zM447 659h1v1h-1zM448 660h1v1h-1zM449 661h1v1h-1zM450 662h1v1h-1zM451 661h2v1h-2zM453 660h2v1h-2zM455 659h2v1h-2zM457 658h7v1h-7zM464 659h5v1h-5zM469 660h4v1h-4zM473 661h2v1h-2zM475 660h1v1h-1zM476 658h1v2h-1zM477 657h1v1h-1zM478 656h1v1h-1zM479 655h1v1h-1zM480 653h1v2h-1zM481 652h1v1h-1zM482 651h1v1h-1zM483 652h1v1h-1zM484 653h1v2h-1zM485 655h1v2h-1zM486 657h1v1h-1zM487 658h1v2h-1zM488 660h1v2h-1zM489 662h1v1h-1zM490 663h1v2h-1zM491 664h9v1h-9zM500 665h2v1h-2zM502 666h2v1h-2zM504 667h2v1h-2zM506 668h4v1h-4zM510 667h5v1h-5zM515 666h2v1h-2zM517 665h1v1h-1zM518 664h2v1h-2zM520 663h2v1h-2zM522 662h5v1h-5zM527 661h5v1h-5zM532 662h2v1h-2zM534 663h2v1h-2zM536 664h2v1h-2zM538 665h3v1h-3zM541 666h3v1h-3zM544 667h5v1h-5zM549 666h4v1h-4zM553 665h5v1h-5zM558 664h5v1h-5zM563 663h3v1h-3zM566 662h3v1h-3zM569 661h3v1h-3zM572 662h3v1h-3zM575 663h2v1h-2zM577 664h2v1h-2zM579 663h2v1h-2zM581 662h1v1h-1zM582 661h2v1h-2zM584 660h1v1h-1zM585 659h2v1h-2zM587 658h4v1h-4zM591 657h4v1h-4zM595 656h4v1h-4zM599 655h4v1h-4zM603 654h3v1h-3zM606 653h3v1h-3zM609 652h3v1h-3zM612 651h2v1h-2zM614 650h3v1h-3zM617 649h2v1h-2zM619 648h1v1h-1zM620 647h2v1h-2zM622 646h1v1h-1zM623 645h2v1h-2zM625 644h1v1h-1zM626 643h4v1h-4zM630 642h6v1h-6zM636 641h5v1h-5zM641 640h6v1h-6zM647 639h7v1h-7zM654 640h9v1h-9zM663 639h7v1h-7zM670 638h6v1h-6zM676 637h4v1h-4zM680 636h11v1h-11zM691 637h2v1h-2zM693 638h1v1h-1zM694 639h1v1h-1zM695 640h2v1h-2zM697 641h1v1h-1zM698 642h2v1h-2zM700 641h5v1h-5zM705 640h2v1h-2zM707 641h1v1h-1zM708 642h2v1h-2zM710 643h1v1h-1zM711 644h2v1h-2zM713 645h1v1h-1zM714 646h3v1h-3zM717 645h6v1h-6zM723 644h2v1h-2zM725 643h1v1h-1zM726 642h2v1h-2zM728 641h2v1h-2zM730 640h5v1h-5zM735 639h15v1h-15zM750 638h6v1h-6zM756 637h7v1h-7zM763 636h2v1h-2zM765 635h3v1h-3zM768 634h3v1h-3zM771 633h4v1h-4zM775 632h13v1h-13zM788 631h8v1h-8zM796 632h3v1h-3zM799 633h3v1h-3zM802 634h4v1h-4zM806 635h4v1h-4zM810 636h5v1h-5zM815 637h4v1h-4zM819 636h1v1h-1zM820 635h2v1h-2zM822 634h1v1h-1zM823 633h1v1h-1zM824 632h2v1h-2zM826 631h3v1h-3zM829 632h4v1h-4zM833 633h3v1h-3zM836 634h1v1h-1zM837 635h2v1h-2zM839 636h1v1h-1zM840 637h2v1h-2zM842 638h11v1h-11zM853 639h4v1h-4zM857 640h3v1h-3zM860 641h3v1h-3zM863 642h2v1h-2zM865 643h3v1h-3zM868 642h3v1h-3zM871 641h2v1h-2zM873 640h2v1h-2zM875 639h2v1h-2zM877 638h2v1h-2zM879 637h1v1h-1zM880 636h2v1h-2zM882 635h1v1h-1zM883 636h1v1h-1zM884 637h1v1h-1zM885 638h1v1h-1zM886 639h1v1h-1zM887 640h1v1h-1zM888 641h1v1h-1zM889 642h1v1h-1zM890 643h2v1h-2zM892 642h3v1h-3zM895 641h2v1h-2zM897 640h3v1h-3zM900 641h4v1h-4zM904 642h4v1h-4zM908 641h2v1h-2zM910 640h3v1h-3zM913 639h2v1h-2zM915 640h1v1h-1zM916 641h1v2h-1zM917 643h1v2h-1zM918 645h1v1h-1zM919 646h1v2h-1zM920 648h1v2h-1zM921 650h1v1h-1zM922 651h1v2h-1zM923 651h2v1h-2zM925 650h2v1h-2zM927 649h2v1h-2zM929 648h7v1h-7zM936 649h4v1h-4zM940 650h2v1h-2zM942 651h2v1h-2zM944 652h2v1h-2zM946 653h1v1h-1zM947 652h2v1h-2zM949 651h2v1h-2zM951 650h3v1h-3zM954 649h4v1h-4zM958 648h7v1h-7zM965 647h6v1h-6zM971 646h3v1h-3zM974 645h3v1h-3zM977 644h3v1h-3zM980 643h4v1h-4zM984 642h4v1h-4zM988 641h5v1h-5zM993 640h12v1h-12zM1005 639h3v1h-3zM1008 638h12v1h-12zM1020 637h7v1h-7zM1027 638h1v1h-1zM1028 639h1v1h-1zM1029 640h1v1h-1zM1030 641h1v1h-1zM1031 642h1v1h-1zM1032 643h1v1h-1zM1033 644h1v2h-1zM1034 646h3v1h-3zM1037 645h9v1h-9zM1046 646h3v1h-3zM1049 647h3v1h-3zM1052 646h3v1h-3zM1055 645h4v1h-4zM1059 646h1v1h-1zM1060 647h1v1h-1zM1061 648h1v1h-1zM1062 649h1v1h-1zM1063 650h1v1h-1zM1064 651h1v1h-1zM1065 652h1v1h-1zM1066 653h2v1h-2zM1068 652h4v1h-4zM1072 651h3v1h-3zM1075 652h1v1h-1zM1076 653h1v2h-1zM1077 655h1v1h-1zM1078 656h1v1h-1zM1079 657h1v2h-1zM1080 659h1v1h-1zM1081 660h1v1h-1zM1082 661h1v2h-1zM1083 661h2v1h-2zM1085 660h1v1h-1zM1086 659h2v1h-2zM1088 658h2v1h-2zM1090 657h4v1h-4zM1094 658h15v1h-15zM1109 657h4v1h-4zM1113 656h2v1h-2zM1115 655h1v1h-1zM1116 654h1v1h-1zM1117 653h1v1h-1zM1118 652h1v1h-1zM1119 651h1v1h-1zM1120 650h1v1h-1zM1121 649h1v1h-1zM1122 648h1v1h-1zM1123 647h2v1h-2zM1125 646h2v1h-2zM1127 645h2v1h-2zM1129 644h2v1h-2zM1131 645h1v1h-1zM1132 646h1v1h-1zM1133 647h2v1h-2zM1135 648h1v1h-1zM1136 649h1v1h-1zM1137 650h1v1h-1zM1138 651h10v1h-10zM1148 652h2v1h-2zM1150 653h2v1h-2zM1152 654h2v1h-2zM1154 655h5v1h-5zM1159 656h4v1h-4zM1163 655h1v1h-1zM1164 654h1v1h-1zM1165 653h1v1h-1zM1166 652h1v1h-1zM1167 651h1v1h-1zM1168 650h1v1h-1zM1169 649h1v1h-1zM1170 648h1v1h-1zM1171 647h2v1h-2zM1173 646h2v1h-2zM1175 645h3v1h-3zM1178 644h6v1h-6zM1184 643h4v1h-4zM1188 642h2v1h-2zM1190 641h3v1h-3zM1193 640h4v1h-4zM1197 641h3v1h-3zM1200 642h2v1h-2zM1202 643h5v1h-5zM1207 644h5v1h-5zM1212 643h2v1h-2zM1214 642h1v1h-1zM1215 641h2v1h-2zM1217 640h2v1h-2zM1219 641h1v1h-1zM1220 642h1v1h-1zM1221 643h1v2h-1zM1222 645h1v1h-1zM1223 646h1v1h-1zM1224 647h1v1h-1zM1225 648h1v2h-1zM1226 650h2v1h-2zM1228 649h4v1h-4zM1232 648h6v1h-6zM1238 649h5v1h-5zM1243 650h2v1h-2zM1245 651h2v1h-2zM1247 652h2v1h-2zM1249 653h3v1h-3zM1252 652h3v1h-3zM1255 651h2v1h-2zM1257 650h4v1h-4zM1261 649h6v1h-6zM1267 648h2v1h-2zM1269 647h2v1h-2zM1271 646h2v1h-2zM1273 645h3v1h-3zM1276 644h5v1h-5zM1281 643h3v1h-3zM1284 644h3v1h-3zM1287 645h3v1h-3zM1290 646h5v1h-5zM1295 647h7v1h-7zM1302 646h17v1h-17zM1319 647h4v1h-4zM1323 646h1v1h-1zM1324 644h1v2h-1zM1325 643h1v1h-1zM1326 641h1v2h-1zM1327 640h1v1h-1zM1328 639h1v1h-1zM1329 637h1v2h-1zM1330 636h2v1h-2zM1332 635h5v1h-5zM1337 634h2v1h-2zM1339 635h2v1h-2zM1341 636h1v1h-1zM1342 637h2v1h-2zM1344 638h1v1h-1zM1345 639h6v1h-6zM1351 638h12v1h-12zM1363 637h3v1h-3zM1366 636h3v1h-3zM1369 635h3v1h-3zM1372 634h4v1h-4zM1376 633h5v1h-5zM1381 634h4v1h-4zM1385 635h4v1h-4zM1389 634h6v1h-6z" fill="#1e90ff" shape-rendering="crispEdges"/>
</g>
<rect x="1" y="2" width="1" height="485" fill="#000"/>
<rect x="1" y="488" width="1" height="120" fill="#000"/>
<rect x="1" y="609" width="1" height="102" fill="#000"/>
<rect x="1" y="2" width="1415" height="1" fill="#000"/>
<rect x="1" y="486" width="1415" height="1" fill="#000"/>
<rect x="1" y="488" width="1415" height="1" fill="#000"/>
<rect x="1" y="607" width="1415" height="1" fill="#000"/>
<rect x="1" y="609" width="1415" height="1" fill="#000"/>
<rect x="1" y="710" width="1415" height="1" fill="#000"/>
<rect x="1415" y="2" width="1" height="485" fill="#000"/>
<rect x="1415" y="488" width="1" height="120" fill="#000"/>
<rect x="1415" y="609" width="1" height="102" fill="#000"/>
<rect x="1415" y="26" width="1" height="2" fill="#32cd32"/>
<rect x="1415" y="96" width="1" height="2" fill="#4169e1"/>
<rect x="1415" y="161" width="1" height="2" fill="#4169e1"/>
<rect x="1415" y="241" width="1" height="2" fill="#4169e1"/>
<rect x="1416" y="21" width="2" height="1" fill="#000"/>
<text transform="translate(1420.8,25) scale(1,1.08)" font-family="Liberation Sans, sans-serif" font-size="9.1" fill="#000" stroke="#000" stroke-width="0.15" text-anchor="start" xml:space="preserve">4680.820</text>
<rect x="1416" y="54" width="2" height="1" fill="#000"/>
<text transform="translate(1420.8,58) scale(1,1.08)" font-family="Liberation Sans, sans-serif" font-size="9.1" fill="#000" stroke="#000" stroke-width="0.15" text-anchor="start" xml:space="preserve">4649.540</text>
<rect x="1416" y="87" width="2" height="1" fill="#000"/>
<text transform="translate(1420.8,91) scale(1,1.08)" font-family="Liberation Sans, sans-serif" font-size="9.1" fill="#000" stroke="#000" stroke-width="0.15" text-anchor="start" xml:space="preserve">4619.180</text>
<rect x="1416" y="120" width="2" height="1" fill="#000"/>
<text transform="translate(1420.8,124) scale(1,1.08)" font-family="Liberation Sans, sans-serif" font-size="9.1" fill="#000" stroke="#000" stroke-width="0.15" text-anchor="start" xml:space="preserve">4588.820</text>
<rect x="1416" y="153" width="2" height="1" fill="#000"/>
<text transform="translate(1420.8,157) scale(1,1.08)" font-family="Liberation Sans, sans-serif" font-size="9.1" fill="#000" stroke="#000" stroke-width="0.15" text-anchor="start" xml:space="preserve">4558.460</text>
<rect x="1416" y="186" width="2" height="1" fill="#000"/>
<text transform="translate(1420.8,190) scale(1,1.08)" font-family="Liberation Sans, sans-serif" font-size="9.1" fill="#000" stroke="#000" stroke-width="0.15" text-anchor="start" xml:space="preserve">4527.180</text>
<rect x="1416" y="219" width="2" height="1" fill="#000"/>
<text transform="translate(1420.8,223) scale(1,1.08)" font-family="Liberation Sans, sans-serif" font-size="9.1" fill="#000" stroke="#000" stroke-width="0.15" text-anchor="start" xml:space="preserve">4496.820</text>
<rect x="1416" y="252" width="2" height="1" fill="#000"/>
<text transform="translate(1420.8,256) scale(1,1.08)" font-family="Liberation Sans, sans-serif" font-size="9.1" fill="#000" stroke="#000" stroke-width="0.15" text-anchor="start" xml:space="preserve">4466.460</text>
<rect x="1416" y="285" width="2" height="1" fill="#000"/>
<text transform="translate(1420.8,289) scale(1,1.08)" font-family="Liberation Sans, sans-serif" font-size="9.1" fill="#000" stroke="#000" stroke-width="0.15" text-anchor="start" xml:space="preserve">4435.180</text>
<rect x="1416" y="318" width="2" height="1" fill="#000"/>
<text transform="translate(1420.8,322) scale(1,1.08)" font-family="Liberation Sans, sans-serif" font-size="9.1" fill="#000" stroke="#000" stroke-width="0.15" text-anchor="start" xml:space="preserve">4404.820</text>
<rect x="1416" y="351" width="2" height="1" fill="#000"/>
<text transform="translate(1420.8,355) scale(1,1.08)" font-family="Liberation Sans, sans-serif" font-size="9.1" fill="#000" stroke="#000" stroke-width="0.15" text-anchor="start" xml:space="preserve">4374.460</text>
<rect x="1416" y="384" width="2" height="1" fill="#000"/>
<text transform="translate(1420.8,388) scale(1,1.08)" font-family="Liberation Sans, sans-serif" font-size="9.1" fill="#000" stroke="#000" stroke-width="0.15" text-anchor="start" xml:space="preserve">4343.180</text>
<rect x="1416" y="417" width="2" height="1" fill="#000"/>
<text transform="translate(1420.8,421) scale(1,1.08)" font-family="Liberation Sans, sans-serif" font-size="9.1" fill="#000" stroke="#000" stroke-width="0.15" text-anchor="start" xml:space="preserve">4312.820</text>
<rect x="1416" y="450" width="2" height="1" fill="#000"/>
<text transform="translate(1420.8,454) scale(1,1.08)" font-family="Liberation Sans, sans-serif" font-size="9.1" fill="#000" stroke="#000" stroke-width="0.15" text-anchor="start" xml:space="preserve">4282.460</text>
<rect x="1416" y="483" width="2" height="1" fill="#000"/>
<text transform="translate(1420.8,487) scale(1,1.08)" font-family="Liberation Sans, sans-serif" font-size="9.1" fill="#000" stroke="#000" stroke-width="0.15" text-anchor="start" xml:space="preserve">4252.100</text>
<rect x="1417" y="21" width="46" height="11" fill="#32cd32"/>
<rect x="1417" y="32" width="46" height="2" fill="#000"/>
<text transform="translate(1420.8,30) scale(1,1.08)" font-family="Liberation Sans, sans-serif" font-size="9.1" fill="#fff" stroke="#fff" stroke-width="0.15" text-anchor="start" xml:space="preserve">4675.000</text>
<rect x="1417" y="91" width="46" height="11" fill="#4169e1"/>
<text transform="translate(1420.8,100) scale(1,1.08)" font-family="Liberation Sans, sans-serif" font-size="9.1" fill="#fff" stroke="#fff" stroke-width="0.15" text-anchor="start" xml:space="preserve">4610.000</text>
<rect x="1417" y="156" width="46" height="11" fill="#4169e1"/>
<text transform="translate(1420.8,165) scale(1,1.08)" font-family="Liberation Sans, sans-serif" font-size="9.1" fill="#fff" stroke="#fff" stroke-width="0.15" text-anchor="start" xml:space="preserve">4550.000</text>
<rect x="1417" y="236" width="46" height="11" fill="#4169e1"/>
<text transform="translate(1420.8,245) scale(1,1.08)" font-family="Liberation Sans, sans-serif" font-size="9.1" fill="#fff" stroke="#fff" stroke-width="0.15" text-anchor="start" xml:space="preserve">4475.000</text>
<rect x="1416" y="490" width="1" height="1" fill="#000"/>
<rect x="1416" y="548" width="1" height="1" fill="#000"/>
<rect x="1416" y="606" width="1" height="1" fill="#000"/>
<text transform="translate(1418.5,499) scale(1,1.08)" font-family="Liberation Sans, sans-serif" font-size="9.1" fill="#000" stroke="#000" stroke-width="0.15" text-anchor="start" xml:space="preserve">33.1572</text>
<text transform="translate(1418.7,552) scale(1,1.08)" font-family="Liberation Sans, sans-serif" font-size="9.1" fill="#000" stroke="#000" stroke-width="0.15" text-anchor="start" xml:space="preserve">0.00</text>
<text transform="translate(1418.8,604) scale(1,1.08)" font-family="Liberation Sans, sans-serif" font-size="9.1" fill="#000" stroke="#000" stroke-width="0.15" text-anchor="start" xml:space="preserve">-33.3431</text>
<text transform="translate(1418.9,620) scale(1,1.08)" font-family="Liberation Sans, sans-serif" font-size="9.1" fill="#000" stroke="#000" stroke-width="0.15" text-anchor="start" xml:space="preserve">100</text>
<text transform="translate(1418.9,644) scale(1,1.08)" font-family="Liberation Sans, sans-serif" font-size="9.1" fill="#000" stroke="#000" stroke-width="0.15" text-anchor="start" xml:space="preserve">70</text>
<text transform="translate(1418.9,684) scale(1,1.08)" font-family="Liberation Sans, sans-serif" font-size="9.1" fill="#000" stroke="#000" stroke-width="0.15" text-anchor="start" xml:space="preserve">30</text>
<text transform="translate(1418.9,707) scale(1,1.08)" font-family="Liberation Sans, sans-serif" font-size="9.1" fill="#000" stroke="#000" stroke-width="0.15" text-anchor="start" xml:space="preserve">0</text>
<rect x="1416" y="611" width="1" height="1" fill="#000"/>
<rect x="1416" y="709" width="1" height="1" fill="#000"/>
<path d="M4.8 9.4 L12 9.4 L8.4 13 Z" fill="#000"/>
<text transform="translate(17.2,14) scale(1,1.08)" font-family="Liberation Sans, sans-serif" font-size="9.1" fill="#000" stroke="#000" stroke-width="0.15" text-anchor="start" textLength="211.5" lengthAdjust="spacingAndGlyphs" xml:space="preserve">SP500-,H4  4671.750 4675.500 4671.250 4674.250</text>
<text transform="translate(6.2,501) scale(1,1.08)" font-family="Liberation Sans, sans-serif" font-size="9.1" fill="#000" stroke="#000" stroke-width="0.15" text-anchor="start" textLength="137.8" lengthAdjust="spacingAndGlyphs" xml:space="preserve">MACD(12,26,9) 21.8870 19.1623</text>
<text transform="translate(6.2,622) scale(1,1.08)" font-family="Liberation Sans, sans-serif" font-size="9.1" fill="#000" stroke="#000" stroke-width="0.15" text-anchor="start" textLength="67.6" lengthAdjust="spacingAndGlyphs" xml:space="preserve">RSI(14) 76.2644</text>
<rect x="2" y="711" width="1" height="3" fill="#000"/>
<text transform="translate(1.0,723) scale(1,1.08)" font-family="Liberation Sans, sans-serif" font-size="9.1" fill="#000" stroke="#000" stroke-width="0.15" text-anchor="start" textLength="50.2" lengthAdjust="spacingAndGlyphs" xml:space="preserve">27 Sep 2021</text>
<rect x="66" y="711" width="1" height="3" fill="#000"/>
<text transform="translate(65.0,723) scale(1,1.08)" font-family="Liberation Sans, sans-serif" font-size="9.1" fill="#000" stroke="#000" stroke-width="0.15" text-anchor="start" textLength="55.6" lengthAdjust="spacingAndGlyphs" xml:space="preserve">29 Sep 04:00</text>
<rect x="130" y="711" width="1" height="3" fill="#000"/>
<text transform="translate(129.0,723) scale(1,1.08)" font-family="Liberation Sans, sans-serif" font-size="9.1" fill="#000" stroke="#000" stroke-width="0.15" text-anchor="start" textLength="55.6" lengthAdjust="spacingAndGlyphs" xml:space="preserve">30 Sep 12:00</text>
<rect x="194" y="711" width="1" height="3" fill="#000"/>
<text transform="translate(193.0,723) scale(1,1.08)" font-family="Liberation Sans, sans-serif" font-size="9.1" fill="#000" stroke="#000" stroke-width="0.15" text-anchor="start" textLength="49.6" lengthAdjust="spacingAndGlyphs" xml:space="preserve">1 Oct 20:00</text>
<rect x="258" y="711" width="1" height="3" fill="#000"/>
<text transform="translate(257.0,723) scale(1,1.08)" font-family="Liberation Sans, sans-serif" font-size="9.1" fill="#000" stroke="#000" stroke-width="0.15" text-anchor="start" textLength="49.6" lengthAdjust="spacingAndGlyphs" xml:space="preserve">5 Oct 00:00</text>
<rect x="322" y="711" width="1" height="3" fill="#000"/>
<text transform="translate(321.0,723) scale(1,1.08)" font-family="Liberation Sans, sans-serif" font-size="9.1" fill="#000" stroke="#000" stroke-width="0.15" text-anchor="start" textLength="49.6" lengthAdjust="spacingAndGlyphs" xml:space="preserve">6 Oct 08:00</text>
<rect x="386" y="711" width="1" height="3" fill="#000"/>
<text transform="translate(385.0,723) scale(1,1.08)" font-family="Liberation Sans, sans-serif" font-size="9.1" fill="#000" stroke="#000" stroke-width="0.15" text-anchor="start" textLength="49.6" lengthAdjust="spacingAndGlyphs" xml:space="preserve">7 Oct 16:00</text>
<rect x="450" y="711" width="1" height="3" fill="#000"/>
<text transform="translate(449.0,723) scale(1,1.08)" font-family="Liberation Sans, sans-serif" font-size="9.1" fill="#000" stroke="#000" stroke-width="0.15" text-anchor="start" textLength="54.2" lengthAdjust="spacingAndGlyphs" xml:space="preserve">10 Oct 23:00</text>
<rect x="514" y="711" width="1" height="3" fill="#000"/>
<text transform="translate(513.0,723) scale(1,1.08)" font-family="Liberation Sans, sans-serif" font-size="9.1" fill="#000" stroke="#000" stroke-width="0.15" text-anchor="start" textLength="54.2" lengthAdjust="spacingAndGlyphs" xml:space="preserve">12 Oct 04:00</text>
<rect x="578" y="711" width="1" height="3" fill="#000"/>
<text transform="translate(577.0,723) scale(1,1.08)" font-family="Liberation Sans, sans-serif" font-size="9.1" fill="#000" stroke="#000" stroke-width="0.15" text-anchor="start" textLength="54.2" lengthAdjust="spacingAndGlyphs" xml:space="preserve">13 Oct 12:00</text>
<rect x="642" y="711" width="1" height="3" fill="#000"/>
<text transform="translate(641.0,723) scale(1,1.08)" font-family="Liberation Sans, sans-serif" font-size="9.1" fill="#000" stroke="#000" stroke-width="0.15" text-anchor="start" textLength="54.2" lengthAdjust="spacingAndGlyphs" xml:space="preserve">14 Oct 20:00</text>
<rect x="706" y="711" width="1" height="3" fill="#000"/>
<text transform="translate(705.0,723) scale(1,1.08)" font-family="Liberation Sans, sans-serif" font-size="9.1" fill="#000" stroke="#000" stroke-width="0.15" text-anchor="start" textLength="54.2" lengthAdjust="spacingAndGlyphs" xml:space="preserve">18 Oct 00:00</text>
<rect x="770" y="711" width="1" height="3" fill="#000"/>
<text transform="translate(769.0,723) scale(1,1.08)" font-family="Liberation Sans, sans-serif" font-size="9.1" fill="#000" stroke="#000" stroke-width="0.15" text-anchor="start" textLength="54.2" lengthAdjust="spacingAndGlyphs" xml:space="preserve">19 Oct 08:00</text>
<rect x="834" y="711" width="1" height="3" fill="#000"/>
<text transform="translate(833.0,723) scale(1,1.08)" font-family="Liberation Sans, sans-serif" font-size="9.1" fill="#000" stroke="#000" stroke-width="0.15" text-anchor="start" textLength="54.2" lengthAdjust="spacingAndGlyphs" xml:space="preserve">20 Oct 16:00</text>
<rect x="898" y="711" width="1" height="3" fill="#000"/>
<text transform="translate(897.0,723) scale(1,1.08)" font-family="Liberation Sans, sans-serif" font-size="9.1" fill="#000" stroke="#000" stroke-width="0.15" text-anchor="start" textLength="54.2" lengthAdjust="spacingAndGlyphs" xml:space="preserve">22 Oct 00:00</text>
<rect x="962" y="711" width="1" height="3" fill="#000"/>
<text transform="translate(961.0,723) scale(1,1.08)" font-family="Liberation Sans, sans-serif" font-size="9.1" fill="#000" stroke="#000" stroke-width="0.15" text-anchor="start" textLength="54.2" lengthAdjust="spacingAndGlyphs" xml:space="preserve">25 Oct 04:00</text>
<rect x="1026" y="711" width="1" height="3" fill="#000"/>
<text transform="translate(1025.0,723) scale(1,1.08)" font-family="Liberation Sans, sans-serif" font-size="9.1" fill="#000" stroke="#000" stroke-width="0.15" text-anchor="start" textLength="54.2" lengthAdjust="spacingAndGlyphs" xml:space="preserve">26 Oct 12:00</text>
<rect x="1090" y="711" width="1" height="3" fill="#000"/>
<text transform="translate(1089.0,723) scale(1,1.08)" font-family="Liberation Sans, sans-serif" font-size="9.1" fill="#000" stroke="#000" stroke-width="0.15" text-anchor="start" textLength="54.2" lengthAdjust="spacingAndGlyphs" xml:space="preserve">27 Oct 20:00</text>
<rect x="1154" y="711" width="1" height="3" fill="#000"/>
<text transform="translate(1153.0,723) scale(1,1.08)" font-family="Liberation Sans, sans-serif" font-size="9.1" fill="#000" stroke="#000" stroke-width="0.15" text-anchor="start" textLength="54.2" lengthAdjust="spacingAndGlyphs" xml:space="preserve">29 Oct 04:00</text>
<rect x="1218" y="711" width="1" height="3" fill="#000"/>
<text transform="translate(1217.0,723) scale(1,1.08)" font-family="Liberation Sans, sans-serif" font-size="9.1" fill="#000" stroke="#000" stroke-width="0.15" text-anchor="start" textLength="52.4" lengthAdjust="spacingAndGlyphs" xml:space="preserve">1 Nov 08:00</text>
<rect x="1282" y="711" width="1" height="3" fill="#000"/>
<text transform="translate(1281.0,723) scale(1,1.08)" font-family="Liberation Sans, sans-serif" font-size="9.1" fill="#000" stroke="#000" stroke-width="0.15" text-anchor="start" textLength="52.4" lengthAdjust="spacingAndGlyphs" xml:space="preserve">2 Nov 16:00</text>
<rect x="1346" y="711" width="1" height="3" fill="#000"/>
<text transform="translate(1345.0,723) scale(1,1.08)" font-family="Liberation Sans, sans-serif" font-size="9.1" fill="#000" stroke="#000" stroke-width="0.15" text-anchor="start" textLength="52.4" lengthAdjust="spacingAndGlyphs" xml:space="preserve">4 Nov 00:00</text>
</svg>
</body></html>
